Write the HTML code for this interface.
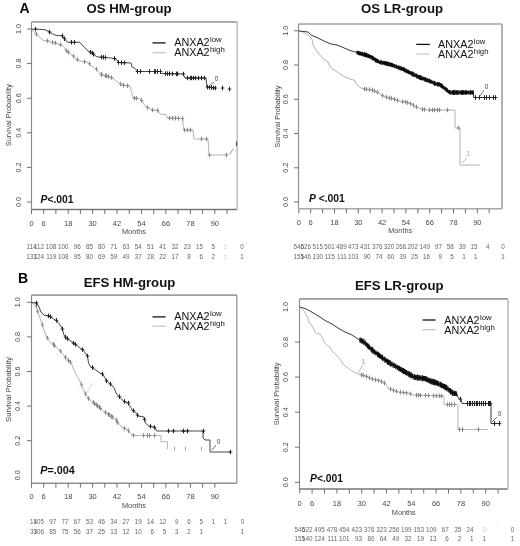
<!DOCTYPE html>
<html><head><meta charset="utf-8"><style>
html,body{margin:0;padding:0;background:#fff;}
body{width:520px;height:546px;overflow:hidden;font-family:"Liberation Sans", sans-serif;}
svg{display:block;filter:grayscale(1) blur(0.3px);}
</style></head><body>
<svg width="520" height="546" viewBox="0 0 520 546" font-family='"Liberation Sans", sans-serif'>
<rect width="520" height="546" fill="#fff"/>
<line x1="31.5" y1="21.9" x2="237.2" y2="21.9" stroke="#a4a4a4" stroke-width="1.6"/>
<line x1="31.5" y1="21.9" x2="31.5" y2="209.5" stroke="#888" stroke-width="1.1"/>
<line x1="31.5" y1="209.5" x2="237.2" y2="209.5" stroke="#777" stroke-width="1.3"/>
<line x1="237.2" y1="21.9" x2="237.2" y2="209.5" stroke="#c4c4c4" stroke-width="1.8"/>
<line x1="27.0" y1="202.0" x2="31.5" y2="202.0" stroke="#707070" stroke-width="1.0"/>
<text x="0" y="0" font-size="7.2" fill="#484848" text-anchor="middle" transform="translate(20.8,202.0) rotate(-90)">0.0</text>
<line x1="27.0" y1="167.4" x2="31.5" y2="167.4" stroke="#707070" stroke-width="1.0"/>
<text x="0" y="0" font-size="7.2" fill="#484848" text-anchor="middle" transform="translate(20.8,167.4) rotate(-90)">0.2</text>
<line x1="27.0" y1="132.8" x2="31.5" y2="132.8" stroke="#707070" stroke-width="1.0"/>
<text x="0" y="0" font-size="7.2" fill="#484848" text-anchor="middle" transform="translate(20.8,132.8) rotate(-90)">0.4</text>
<line x1="27.0" y1="98.2" x2="31.5" y2="98.2" stroke="#707070" stroke-width="1.0"/>
<text x="0" y="0" font-size="7.2" fill="#484848" text-anchor="middle" transform="translate(20.8,98.2) rotate(-90)">0.6</text>
<line x1="27.0" y1="63.6" x2="31.5" y2="63.6" stroke="#707070" stroke-width="1.0"/>
<text x="0" y="0" font-size="7.2" fill="#484848" text-anchor="middle" transform="translate(20.8,63.6) rotate(-90)">0.8</text>
<line x1="27.0" y1="29.0" x2="31.5" y2="29.0" stroke="#707070" stroke-width="1.0"/>
<text x="0" y="0" font-size="7.2" fill="#484848" text-anchor="middle" transform="translate(20.8,29.0) rotate(-90)">1.0</text>
<text x="0" y="0" font-size="7.6" fill="#484848" text-anchor="middle" textLength="62.0" lengthAdjust="spacingAndGlyphs" transform="translate(11.3,115.2) rotate(-90)">Survival Probability</text>
<line x1="31.5" y1="209.5" x2="31.5" y2="214.0" stroke="#707070" stroke-width="1.0"/>
<line x1="43.7" y1="209.5" x2="43.7" y2="214.0" stroke="#707070" stroke-width="1.0"/>
<line x1="55.9" y1="209.5" x2="55.9" y2="214.0" stroke="#707070" stroke-width="1.0"/>
<line x1="68.2" y1="209.5" x2="68.2" y2="214.0" stroke="#707070" stroke-width="1.0"/>
<line x1="80.4" y1="209.5" x2="80.4" y2="214.0" stroke="#707070" stroke-width="1.0"/>
<line x1="92.6" y1="209.5" x2="92.6" y2="214.0" stroke="#707070" stroke-width="1.0"/>
<line x1="104.8" y1="209.5" x2="104.8" y2="214.0" stroke="#707070" stroke-width="1.0"/>
<line x1="117.0" y1="209.5" x2="117.0" y2="214.0" stroke="#707070" stroke-width="1.0"/>
<line x1="129.3" y1="209.5" x2="129.3" y2="214.0" stroke="#707070" stroke-width="1.0"/>
<line x1="141.5" y1="209.5" x2="141.5" y2="214.0" stroke="#707070" stroke-width="1.0"/>
<line x1="153.7" y1="209.5" x2="153.7" y2="214.0" stroke="#707070" stroke-width="1.0"/>
<line x1="165.9" y1="209.5" x2="165.9" y2="214.0" stroke="#707070" stroke-width="1.0"/>
<line x1="178.1" y1="209.5" x2="178.1" y2="214.0" stroke="#707070" stroke-width="1.0"/>
<line x1="190.4" y1="209.5" x2="190.4" y2="214.0" stroke="#707070" stroke-width="1.0"/>
<line x1="202.6" y1="209.5" x2="202.6" y2="214.0" stroke="#707070" stroke-width="1.0"/>
<line x1="214.8" y1="209.5" x2="214.8" y2="214.0" stroke="#707070" stroke-width="1.0"/>
<line x1="227.0" y1="209.5" x2="227.0" y2="214.0" stroke="#707070" stroke-width="1.0"/>
<text x="31.5" y="225.6" font-size="7.5" fill="#484848" text-anchor="middle" font-weight="normal" font-style="normal" >0</text>
<text x="43.7" y="225.6" font-size="7.5" fill="#484848" text-anchor="middle" font-weight="normal" font-style="normal" >6</text>
<text x="68.2" y="225.6" font-size="7.5" fill="#484848" text-anchor="middle" font-weight="normal" font-style="normal" >18</text>
<text x="92.6" y="225.6" font-size="7.5" fill="#484848" text-anchor="middle" font-weight="normal" font-style="normal" >30</text>
<text x="117.0" y="225.6" font-size="7.5" fill="#484848" text-anchor="middle" font-weight="normal" font-style="normal" >42</text>
<text x="141.5" y="225.6" font-size="7.5" fill="#484848" text-anchor="middle" font-weight="normal" font-style="normal" >54</text>
<text x="165.9" y="225.6" font-size="7.5" fill="#484848" text-anchor="middle" font-weight="normal" font-style="normal" >66</text>
<text x="190.4" y="225.6" font-size="7.5" fill="#484848" text-anchor="middle" font-weight="normal" font-style="normal" >78</text>
<text x="214.8" y="225.6" font-size="7.5" fill="#484848" text-anchor="middle" font-weight="normal" font-style="normal" >90</text>
<text x="134.0" y="234.4" font-size="7.3" fill="#484848" text-anchor="middle" font-weight="normal" font-style="normal" >Months</text>
<text x="31.5" y="249.3" font-size="6.3" fill="#666" text-anchor="middle" font-weight="normal" font-style="normal" >114</text>
<text x="44.0" y="249.3" font-size="6.3" fill="#666" text-anchor="end" font-weight="normal" font-style="normal" >112</text>
<text x="56.2" y="249.3" font-size="6.3" fill="#666" text-anchor="end" font-weight="normal" font-style="normal" >108</text>
<text x="68.5" y="249.3" font-size="6.3" fill="#666" text-anchor="end" font-weight="normal" font-style="normal" >100</text>
<text x="80.7" y="249.3" font-size="6.3" fill="#666" text-anchor="end" font-weight="normal" font-style="normal" >96</text>
<text x="92.9" y="249.3" font-size="6.3" fill="#666" text-anchor="end" font-weight="normal" font-style="normal" >85</text>
<text x="105.1" y="249.3" font-size="6.3" fill="#666" text-anchor="end" font-weight="normal" font-style="normal" >80</text>
<text x="117.3" y="249.3" font-size="6.3" fill="#666" text-anchor="end" font-weight="normal" font-style="normal" >71</text>
<text x="129.6" y="249.3" font-size="6.3" fill="#666" text-anchor="end" font-weight="normal" font-style="normal" >63</text>
<text x="141.8" y="249.3" font-size="6.3" fill="#666" text-anchor="end" font-weight="normal" font-style="normal" >54</text>
<text x="154.0" y="249.3" font-size="6.3" fill="#666" text-anchor="end" font-weight="normal" font-style="normal" >51</text>
<text x="166.2" y="249.3" font-size="6.3" fill="#666" text-anchor="end" font-weight="normal" font-style="normal" >41</text>
<text x="178.4" y="249.3" font-size="6.3" fill="#666" text-anchor="end" font-weight="normal" font-style="normal" >32</text>
<text x="190.7" y="249.3" font-size="6.3" fill="#666" text-anchor="end" font-weight="normal" font-style="normal" >23</text>
<text x="202.9" y="249.3" font-size="6.3" fill="#666" text-anchor="end" font-weight="normal" font-style="normal" >15</text>
<text x="215.1" y="249.3" font-size="6.3" fill="#666" text-anchor="end" font-weight="normal" font-style="normal" >5</text>
<text x="227.3" y="249.3" font-size="6.3" fill="#ccc" text-anchor="end" font-weight="normal" font-style="normal" >1</text>
<text x="242.0" y="249.3" font-size="6.3" fill="#666" text-anchor="middle" font-weight="normal" font-style="normal" >0</text>
<text x="31.5" y="258.8" font-size="6.3" fill="#666" text-anchor="middle" font-weight="normal" font-style="normal" >133</text>
<text x="44.0" y="258.8" font-size="6.3" fill="#666" text-anchor="end" font-weight="normal" font-style="normal" >124</text>
<text x="56.2" y="258.8" font-size="6.3" fill="#666" text-anchor="end" font-weight="normal" font-style="normal" >119</text>
<text x="68.5" y="258.8" font-size="6.3" fill="#666" text-anchor="end" font-weight="normal" font-style="normal" >108</text>
<text x="80.7" y="258.8" font-size="6.3" fill="#666" text-anchor="end" font-weight="normal" font-style="normal" >95</text>
<text x="92.9" y="258.8" font-size="6.3" fill="#666" text-anchor="end" font-weight="normal" font-style="normal" >80</text>
<text x="105.1" y="258.8" font-size="6.3" fill="#666" text-anchor="end" font-weight="normal" font-style="normal" >69</text>
<text x="117.3" y="258.8" font-size="6.3" fill="#666" text-anchor="end" font-weight="normal" font-style="normal" >59</text>
<text x="129.6" y="258.8" font-size="6.3" fill="#666" text-anchor="end" font-weight="normal" font-style="normal" >49</text>
<text x="141.8" y="258.8" font-size="6.3" fill="#666" text-anchor="end" font-weight="normal" font-style="normal" >37</text>
<text x="154.0" y="258.8" font-size="6.3" fill="#666" text-anchor="end" font-weight="normal" font-style="normal" >28</text>
<text x="166.2" y="258.8" font-size="6.3" fill="#666" text-anchor="end" font-weight="normal" font-style="normal" >22</text>
<text x="178.4" y="258.8" font-size="6.3" fill="#666" text-anchor="end" font-weight="normal" font-style="normal" >17</text>
<text x="190.7" y="258.8" font-size="6.3" fill="#666" text-anchor="end" font-weight="normal" font-style="normal" >8</text>
<text x="202.9" y="258.8" font-size="6.3" fill="#666" text-anchor="end" font-weight="normal" font-style="normal" >6</text>
<text x="215.1" y="258.8" font-size="6.3" fill="#666" text-anchor="end" font-weight="normal" font-style="normal" >2</text>
<text x="227.3" y="258.8" font-size="6.3" fill="#ccc" text-anchor="end" font-weight="normal" font-style="normal" >1</text>
<text x="242.0" y="258.8" font-size="6.3" fill="#666" text-anchor="middle" font-weight="normal" font-style="normal" >1</text>
<text x="129.1" y="12.7" font-size="13.2" fill="#111" text-anchor="middle" font-weight="bold" font-style="normal" >OS HM-group</text>
<line x1="152.5" y1="42.9" x2="165.6" y2="42.9" stroke="#111" stroke-width="1.3"/>
<line x1="152.5" y1="52.7" x2="165.6" y2="52.7" stroke="#c4c4c4" stroke-width="1.2"/>
<text x="174.2" y="46.3" font-size="10.8" fill="#111">ANXA2<tspan font-size="7.8" dx="0.4" dy="-4.0">low</tspan></text>
<text x="174.2" y="56.0" font-size="10.8" fill="#111">ANXA2<tspan font-size="7.8" dx="0.4" dy="-4.0">high</tspan></text>
<text x="40.5" y="202.6" font-size="10.3" font-weight="bold" fill="#111"><tspan font-style="italic">P</tspan>&lt;.001</text>
<line x1="298.5" y1="24.0" x2="502.0" y2="24.0" stroke="#a0a0a0" stroke-width="1.6"/>
<line x1="298.5" y1="24.0" x2="298.5" y2="208.8" stroke="#909090" stroke-width="1.2"/>
<line x1="298.5" y1="208.8" x2="502.0" y2="208.8" stroke="#a8a8a8" stroke-width="1.6"/>
<line x1="502.0" y1="24.0" x2="502.0" y2="208.8" stroke="#aaa" stroke-width="1.8"/>
<line x1="294.0" y1="202.0" x2="298.5" y2="202.0" stroke="#707070" stroke-width="1.0"/>
<text x="0" y="0" font-size="7.2" fill="#484848" text-anchor="middle" transform="translate(288.3,202.0) rotate(-90)">0.0</text>
<line x1="294.0" y1="167.8" x2="298.5" y2="167.8" stroke="#707070" stroke-width="1.0"/>
<text x="0" y="0" font-size="7.2" fill="#484848" text-anchor="middle" transform="translate(288.3,167.8) rotate(-90)">0.2</text>
<line x1="294.0" y1="133.5" x2="298.5" y2="133.5" stroke="#707070" stroke-width="1.0"/>
<text x="0" y="0" font-size="7.2" fill="#484848" text-anchor="middle" transform="translate(288.3,133.5) rotate(-90)">0.4</text>
<line x1="294.0" y1="99.3" x2="298.5" y2="99.3" stroke="#707070" stroke-width="1.0"/>
<text x="0" y="0" font-size="7.2" fill="#484848" text-anchor="middle" transform="translate(288.3,99.3) rotate(-90)">0.6</text>
<line x1="294.0" y1="65.0" x2="298.5" y2="65.0" stroke="#707070" stroke-width="1.0"/>
<text x="0" y="0" font-size="7.2" fill="#484848" text-anchor="middle" transform="translate(288.3,65.0) rotate(-90)">0.8</text>
<line x1="294.0" y1="30.8" x2="298.5" y2="30.8" stroke="#707070" stroke-width="1.0"/>
<text x="0" y="0" font-size="7.2" fill="#484848" text-anchor="middle" transform="translate(288.3,30.8) rotate(-90)">1.0</text>
<text x="0" y="0" font-size="7.6" fill="#484848" text-anchor="middle" textLength="62.1" lengthAdjust="spacingAndGlyphs" transform="translate(279.8,116.6) rotate(-90)">Survival Probability</text>
<line x1="298.8" y1="208.8" x2="298.8" y2="213.3" stroke="#707070" stroke-width="1.0"/>
<line x1="310.7" y1="208.8" x2="310.7" y2="213.3" stroke="#707070" stroke-width="1.0"/>
<line x1="322.6" y1="208.8" x2="322.6" y2="213.3" stroke="#707070" stroke-width="1.0"/>
<line x1="334.5" y1="208.8" x2="334.5" y2="213.3" stroke="#707070" stroke-width="1.0"/>
<line x1="346.4" y1="208.8" x2="346.4" y2="213.3" stroke="#707070" stroke-width="1.0"/>
<line x1="358.3" y1="208.8" x2="358.3" y2="213.3" stroke="#707070" stroke-width="1.0"/>
<line x1="370.2" y1="208.8" x2="370.2" y2="213.3" stroke="#707070" stroke-width="1.0"/>
<line x1="382.1" y1="208.8" x2="382.1" y2="213.3" stroke="#707070" stroke-width="1.0"/>
<line x1="394.0" y1="208.8" x2="394.0" y2="213.3" stroke="#707070" stroke-width="1.0"/>
<line x1="405.9" y1="208.8" x2="405.9" y2="213.3" stroke="#707070" stroke-width="1.0"/>
<line x1="417.8" y1="208.8" x2="417.8" y2="213.3" stroke="#707070" stroke-width="1.0"/>
<line x1="429.7" y1="208.8" x2="429.7" y2="213.3" stroke="#707070" stroke-width="1.0"/>
<line x1="441.6" y1="208.8" x2="441.6" y2="213.3" stroke="#707070" stroke-width="1.0"/>
<line x1="453.5" y1="208.8" x2="453.5" y2="213.3" stroke="#707070" stroke-width="1.0"/>
<line x1="465.4" y1="208.8" x2="465.4" y2="213.3" stroke="#707070" stroke-width="1.0"/>
<line x1="477.3" y1="208.8" x2="477.3" y2="213.3" stroke="#707070" stroke-width="1.0"/>
<line x1="489.2" y1="208.8" x2="489.2" y2="213.3" stroke="#707070" stroke-width="1.0"/>
<text x="298.8" y="224.8" font-size="7.5" fill="#484848" text-anchor="middle" font-weight="normal" font-style="normal" >0</text>
<text x="310.7" y="224.8" font-size="7.5" fill="#484848" text-anchor="middle" font-weight="normal" font-style="normal" >6</text>
<text x="334.5" y="224.8" font-size="7.5" fill="#484848" text-anchor="middle" font-weight="normal" font-style="normal" >18</text>
<text x="358.3" y="224.8" font-size="7.5" fill="#484848" text-anchor="middle" font-weight="normal" font-style="normal" >30</text>
<text x="382.1" y="224.8" font-size="7.5" fill="#484848" text-anchor="middle" font-weight="normal" font-style="normal" >42</text>
<text x="405.9" y="224.8" font-size="7.5" fill="#484848" text-anchor="middle" font-weight="normal" font-style="normal" >54</text>
<text x="429.7" y="224.8" font-size="7.5" fill="#484848" text-anchor="middle" font-weight="normal" font-style="normal" >66</text>
<text x="453.5" y="224.8" font-size="7.5" fill="#484848" text-anchor="middle" font-weight="normal" font-style="normal" >78</text>
<text x="477.3" y="224.8" font-size="7.5" fill="#484848" text-anchor="middle" font-weight="normal" font-style="normal" >90</text>
<text x="400.2" y="233.2" font-size="7.3" fill="#484848" text-anchor="middle" font-weight="normal" font-style="normal" >Months</text>
<text x="298.8" y="249.2" font-size="6.3" fill="#666" text-anchor="middle" font-weight="normal" font-style="normal" >546</text>
<text x="311.0" y="249.2" font-size="6.3" fill="#666" text-anchor="end" font-weight="normal" font-style="normal" >526</text>
<text x="322.9" y="249.2" font-size="6.3" fill="#666" text-anchor="end" font-weight="normal" font-style="normal" >515</text>
<text x="334.8" y="249.2" font-size="6.3" fill="#666" text-anchor="end" font-weight="normal" font-style="normal" >501</text>
<text x="346.7" y="249.2" font-size="6.3" fill="#666" text-anchor="end" font-weight="normal" font-style="normal" >489</text>
<text x="358.6" y="249.2" font-size="6.3" fill="#666" text-anchor="end" font-weight="normal" font-style="normal" >473</text>
<text x="370.5" y="249.2" font-size="6.3" fill="#666" text-anchor="end" font-weight="normal" font-style="normal" >431</text>
<text x="382.4" y="249.2" font-size="6.3" fill="#666" text-anchor="end" font-weight="normal" font-style="normal" >376</text>
<text x="394.3" y="249.2" font-size="6.3" fill="#666" text-anchor="end" font-weight="normal" font-style="normal" >320</text>
<text x="406.2" y="249.2" font-size="6.3" fill="#666" text-anchor="end" font-weight="normal" font-style="normal" >266</text>
<text x="418.1" y="249.2" font-size="6.3" fill="#666" text-anchor="end" font-weight="normal" font-style="normal" >202</text>
<text x="430.0" y="249.2" font-size="6.3" fill="#666" text-anchor="end" font-weight="normal" font-style="normal" >149</text>
<text x="441.9" y="249.2" font-size="6.3" fill="#666" text-anchor="end" font-weight="normal" font-style="normal" >97</text>
<text x="453.8" y="249.2" font-size="6.3" fill="#666" text-anchor="end" font-weight="normal" font-style="normal" >58</text>
<text x="465.7" y="249.2" font-size="6.3" fill="#666" text-anchor="end" font-weight="normal" font-style="normal" >39</text>
<text x="477.6" y="249.2" font-size="6.3" fill="#666" text-anchor="end" font-weight="normal" font-style="normal" >15</text>
<text x="489.5" y="249.2" font-size="6.3" fill="#666" text-anchor="end" font-weight="normal" font-style="normal" >4</text>
<text x="503.0" y="249.2" font-size="6.3" fill="#666" text-anchor="middle" font-weight="normal" font-style="normal" >0</text>
<text x="298.8" y="258.5" font-size="6.3" fill="#666" text-anchor="middle" font-weight="normal" font-style="normal" >155</text>
<text x="311.0" y="258.5" font-size="6.3" fill="#666" text-anchor="end" font-weight="normal" font-style="normal" >146</text>
<text x="322.9" y="258.5" font-size="6.3" fill="#666" text-anchor="end" font-weight="normal" font-style="normal" >130</text>
<text x="334.8" y="258.5" font-size="6.3" fill="#666" text-anchor="end" font-weight="normal" font-style="normal" >115</text>
<text x="346.7" y="258.5" font-size="6.3" fill="#666" text-anchor="end" font-weight="normal" font-style="normal" >111</text>
<text x="358.6" y="258.5" font-size="6.3" fill="#666" text-anchor="end" font-weight="normal" font-style="normal" >103</text>
<text x="370.5" y="258.5" font-size="6.3" fill="#666" text-anchor="end" font-weight="normal" font-style="normal" >90</text>
<text x="382.4" y="258.5" font-size="6.3" fill="#666" text-anchor="end" font-weight="normal" font-style="normal" >74</text>
<text x="394.3" y="258.5" font-size="6.3" fill="#666" text-anchor="end" font-weight="normal" font-style="normal" >60</text>
<text x="406.2" y="258.5" font-size="6.3" fill="#666" text-anchor="end" font-weight="normal" font-style="normal" >39</text>
<text x="418.1" y="258.5" font-size="6.3" fill="#666" text-anchor="end" font-weight="normal" font-style="normal" >25</text>
<text x="430.0" y="258.5" font-size="6.3" fill="#666" text-anchor="end" font-weight="normal" font-style="normal" >16</text>
<text x="441.9" y="258.5" font-size="6.3" fill="#666" text-anchor="end" font-weight="normal" font-style="normal" >9</text>
<text x="453.8" y="258.5" font-size="6.3" fill="#666" text-anchor="end" font-weight="normal" font-style="normal" >5</text>
<text x="465.7" y="258.5" font-size="6.3" fill="#666" text-anchor="end" font-weight="normal" font-style="normal" >1</text>
<text x="477.6" y="258.5" font-size="6.3" fill="#666" text-anchor="end" font-weight="normal" font-style="normal" >1</text>
<text x="503.0" y="258.5" font-size="6.3" fill="#666" text-anchor="middle" font-weight="normal" font-style="normal" >1</text>
<text x="402.0" y="13.4" font-size="13.2" fill="#111" text-anchor="middle" font-weight="bold" font-style="normal" >OS LR-group</text>
<line x1="416.3" y1="44.4" x2="429.8" y2="44.4" stroke="#111" stroke-width="1.3"/>
<line x1="416.3" y1="54.0" x2="429.8" y2="54.0" stroke="#c4c4c4" stroke-width="1.2"/>
<text x="438" y="48.3" font-size="10.8" fill="#111">ANXA2<tspan font-size="7.8" dx="0.4" dy="-4.0">low</tspan></text>
<text x="438" y="57.5" font-size="10.8" fill="#111">ANXA2<tspan font-size="7.8" dx="0.4" dy="-4.0">high</tspan></text>
<text x="308.9" y="201.5" font-size="10.3" font-weight="bold" fill="#111"><tspan font-style="italic">P</tspan> &lt;.001</text>
<line x1="31.5" y1="295.1" x2="236.8" y2="295.1" stroke="#a0a0a0" stroke-width="1.6"/>
<line x1="31.5" y1="295.1" x2="31.5" y2="483.2" stroke="#888" stroke-width="1.1"/>
<line x1="31.5" y1="483.2" x2="236.8" y2="483.2" stroke="#909090" stroke-width="1.6"/>
<line x1="236.8" y1="295.1" x2="236.8" y2="483.2" stroke="#999" stroke-width="1.3"/>
<text x="0" y="0" font-size="7.2" fill="#484848" text-anchor="middle" transform="translate(20.3,475.3) rotate(-90)">0.0</text>
<line x1="27.0" y1="440.7" x2="31.5" y2="440.7" stroke="#707070" stroke-width="1.0"/>
<text x="0" y="0" font-size="7.2" fill="#484848" text-anchor="middle" transform="translate(20.3,440.7) rotate(-90)">0.2</text>
<line x1="27.0" y1="406.1" x2="31.5" y2="406.1" stroke="#707070" stroke-width="1.0"/>
<text x="0" y="0" font-size="7.2" fill="#484848" text-anchor="middle" transform="translate(20.3,406.1) rotate(-90)">0.4</text>
<line x1="27.0" y1="371.5" x2="31.5" y2="371.5" stroke="#707070" stroke-width="1.0"/>
<text x="0" y="0" font-size="7.2" fill="#484848" text-anchor="middle" transform="translate(20.3,371.5) rotate(-90)">0.6</text>
<line x1="27.0" y1="336.9" x2="31.5" y2="336.9" stroke="#707070" stroke-width="1.0"/>
<text x="0" y="0" font-size="7.2" fill="#484848" text-anchor="middle" transform="translate(20.3,336.9) rotate(-90)">0.8</text>
<line x1="27.0" y1="302.3" x2="31.5" y2="302.3" stroke="#707070" stroke-width="1.0"/>
<text x="0" y="0" font-size="7.2" fill="#484848" text-anchor="middle" transform="translate(20.3,302.3) rotate(-90)">1.0</text>
<text x="0" y="0" font-size="7.6" fill="#484848" text-anchor="middle" textLength="65.10000000000001" lengthAdjust="spacingAndGlyphs" transform="translate(11.2,389.4) rotate(-90)">Survival Probability</text>
<line x1="31.5" y1="483.2" x2="31.5" y2="487.7" stroke="#707070" stroke-width="1.0"/>
<line x1="43.7" y1="483.2" x2="43.7" y2="487.7" stroke="#707070" stroke-width="1.0"/>
<line x1="55.9" y1="483.2" x2="55.9" y2="487.7" stroke="#707070" stroke-width="1.0"/>
<line x1="68.2" y1="483.2" x2="68.2" y2="487.7" stroke="#707070" stroke-width="1.0"/>
<line x1="80.4" y1="483.2" x2="80.4" y2="487.7" stroke="#707070" stroke-width="1.0"/>
<line x1="92.6" y1="483.2" x2="92.6" y2="487.7" stroke="#707070" stroke-width="1.0"/>
<line x1="104.8" y1="483.2" x2="104.8" y2="487.7" stroke="#707070" stroke-width="1.0"/>
<line x1="117.0" y1="483.2" x2="117.0" y2="487.7" stroke="#707070" stroke-width="1.0"/>
<line x1="129.3" y1="483.2" x2="129.3" y2="487.7" stroke="#707070" stroke-width="1.0"/>
<line x1="141.5" y1="483.2" x2="141.5" y2="487.7" stroke="#707070" stroke-width="1.0"/>
<line x1="153.7" y1="483.2" x2="153.7" y2="487.7" stroke="#707070" stroke-width="1.0"/>
<line x1="165.9" y1="483.2" x2="165.9" y2="487.7" stroke="#707070" stroke-width="1.0"/>
<line x1="178.1" y1="483.2" x2="178.1" y2="487.7" stroke="#707070" stroke-width="1.0"/>
<line x1="190.4" y1="483.2" x2="190.4" y2="487.7" stroke="#707070" stroke-width="1.0"/>
<line x1="202.6" y1="483.2" x2="202.6" y2="487.7" stroke="#707070" stroke-width="1.0"/>
<line x1="214.8" y1="483.2" x2="214.8" y2="487.7" stroke="#707070" stroke-width="1.0"/>
<text x="31.5" y="499.3" font-size="7.5" fill="#484848" text-anchor="middle" font-weight="normal" font-style="normal" >0</text>
<text x="43.7" y="499.3" font-size="7.5" fill="#484848" text-anchor="middle" font-weight="normal" font-style="normal" >6</text>
<text x="68.2" y="499.3" font-size="7.5" fill="#484848" text-anchor="middle" font-weight="normal" font-style="normal" >18</text>
<text x="92.6" y="499.3" font-size="7.5" fill="#484848" text-anchor="middle" font-weight="normal" font-style="normal" >30</text>
<text x="117.0" y="499.3" font-size="7.5" fill="#484848" text-anchor="middle" font-weight="normal" font-style="normal" >42</text>
<text x="141.5" y="499.3" font-size="7.5" fill="#484848" text-anchor="middle" font-weight="normal" font-style="normal" >54</text>
<text x="165.9" y="499.3" font-size="7.5" fill="#484848" text-anchor="middle" font-weight="normal" font-style="normal" >66</text>
<text x="190.4" y="499.3" font-size="7.5" fill="#484848" text-anchor="middle" font-weight="normal" font-style="normal" >78</text>
<text x="214.8" y="499.3" font-size="7.5" fill="#484848" text-anchor="middle" font-weight="normal" font-style="normal" >90</text>
<text x="134.0" y="507.7" font-size="7.3" fill="#484848" text-anchor="middle" font-weight="normal" font-style="normal" >Months</text>
<text x="30.0" y="523.9" font-size="6.3" fill="#666" text-anchor="start" font-weight="normal" font-style="normal" >14</text>
<text x="27.6" y="524.7" font-size="5.5" fill="#999" text-anchor="middle" font-weight="normal" font-style="normal" >'</text>
<text x="44.0" y="523.9" font-size="6.3" fill="#666" text-anchor="end" font-weight="normal" font-style="normal" >105</text>
<text x="56.2" y="523.9" font-size="6.3" fill="#666" text-anchor="end" font-weight="normal" font-style="normal" >97</text>
<text x="68.5" y="523.9" font-size="6.3" fill="#666" text-anchor="end" font-weight="normal" font-style="normal" >77</text>
<text x="80.7" y="523.9" font-size="6.3" fill="#666" text-anchor="end" font-weight="normal" font-style="normal" >67</text>
<text x="92.9" y="523.9" font-size="6.3" fill="#666" text-anchor="end" font-weight="normal" font-style="normal" >53</text>
<text x="105.1" y="523.9" font-size="6.3" fill="#666" text-anchor="end" font-weight="normal" font-style="normal" >46</text>
<text x="117.3" y="523.9" font-size="6.3" fill="#666" text-anchor="end" font-weight="normal" font-style="normal" >34</text>
<text x="129.6" y="523.9" font-size="6.3" fill="#666" text-anchor="end" font-weight="normal" font-style="normal" >27</text>
<text x="141.8" y="523.9" font-size="6.3" fill="#666" text-anchor="end" font-weight="normal" font-style="normal" >19</text>
<text x="154.0" y="523.9" font-size="6.3" fill="#666" text-anchor="end" font-weight="normal" font-style="normal" >14</text>
<text x="166.2" y="523.9" font-size="6.3" fill="#666" text-anchor="end" font-weight="normal" font-style="normal" >12</text>
<text x="178.4" y="523.9" font-size="6.3" fill="#666" text-anchor="end" font-weight="normal" font-style="normal" >9</text>
<text x="190.7" y="523.9" font-size="6.3" fill="#666" text-anchor="end" font-weight="normal" font-style="normal" >6</text>
<text x="202.9" y="523.9" font-size="6.3" fill="#666" text-anchor="end" font-weight="normal" font-style="normal" >5</text>
<text x="215.1" y="523.9" font-size="6.3" fill="#666" text-anchor="end" font-weight="normal" font-style="normal" >1</text>
<text x="227.3" y="523.9" font-size="6.3" fill="#666" text-anchor="end" font-weight="normal" font-style="normal" >1</text>
<text x="242.5" y="523.9" font-size="6.3" fill="#666" text-anchor="middle" font-weight="normal" font-style="normal" >0</text>
<text x="30.0" y="533.5" font-size="6.3" fill="#666" text-anchor="start" font-weight="normal" font-style="normal" >33</text>
<text x="27.6" y="534.3" font-size="5.5" fill="#999" text-anchor="middle" font-weight="normal" font-style="normal" >'</text>
<text x="44.0" y="533.5" font-size="6.3" fill="#666" text-anchor="end" font-weight="normal" font-style="normal" >106</text>
<text x="56.2" y="533.5" font-size="6.3" fill="#666" text-anchor="end" font-weight="normal" font-style="normal" >85</text>
<text x="68.5" y="533.5" font-size="6.3" fill="#666" text-anchor="end" font-weight="normal" font-style="normal" >75</text>
<text x="80.7" y="533.5" font-size="6.3" fill="#666" text-anchor="end" font-weight="normal" font-style="normal" >56</text>
<text x="92.9" y="533.5" font-size="6.3" fill="#666" text-anchor="end" font-weight="normal" font-style="normal" >37</text>
<text x="105.1" y="533.5" font-size="6.3" fill="#666" text-anchor="end" font-weight="normal" font-style="normal" >25</text>
<text x="117.3" y="533.5" font-size="6.3" fill="#666" text-anchor="end" font-weight="normal" font-style="normal" >13</text>
<text x="129.6" y="533.5" font-size="6.3" fill="#666" text-anchor="end" font-weight="normal" font-style="normal" >12</text>
<text x="141.8" y="533.5" font-size="6.3" fill="#666" text-anchor="end" font-weight="normal" font-style="normal" >10</text>
<text x="154.0" y="533.5" font-size="6.3" fill="#666" text-anchor="end" font-weight="normal" font-style="normal" >6</text>
<text x="166.2" y="533.5" font-size="6.3" fill="#666" text-anchor="end" font-weight="normal" font-style="normal" >5</text>
<text x="178.4" y="533.5" font-size="6.3" fill="#666" text-anchor="end" font-weight="normal" font-style="normal" >3</text>
<text x="190.7" y="533.5" font-size="6.3" fill="#666" text-anchor="end" font-weight="normal" font-style="normal" >2</text>
<text x="202.9" y="533.5" font-size="6.3" fill="#666" text-anchor="end" font-weight="normal" font-style="normal" >1</text>
<text x="242.5" y="533.5" font-size="6.3" fill="#666" text-anchor="middle" font-weight="normal" font-style="normal" >1</text>
<text x="129.5" y="287.3" font-size="13.2" fill="#111" text-anchor="middle" font-weight="bold" font-style="normal" >EFS HM-group</text>
<line x1="152.5" y1="316.9" x2="165.6" y2="316.9" stroke="#111" stroke-width="1.3"/>
<line x1="152.5" y1="326.2" x2="165.6" y2="326.2" stroke="#c4c4c4" stroke-width="1.2"/>
<text x="174.2" y="320.4" font-size="10.8" fill="#111">ANXA2<tspan font-size="7.8" dx="0.4" dy="-4.0">low</tspan></text>
<text x="174.2" y="330.0" font-size="10.8" fill="#111">ANXA2<tspan font-size="7.8" dx="0.4" dy="-4.0">high</tspan></text>
<text x="40.3" y="474.3" font-size="10.8" font-weight="bold" fill="#111"><tspan font-style="italic">P</tspan>=.004</text>
<line x1="299.5" y1="298.9" x2="508.0" y2="298.9" stroke="#999" stroke-width="1.6"/>
<line x1="299.5" y1="298.9" x2="299.5" y2="489.0" stroke="#909090" stroke-width="1.2"/>
<line x1="299.5" y1="489.0" x2="508.0" y2="489.0" stroke="#777" stroke-width="1.4"/>
<line x1="508.0" y1="298.9" x2="508.0" y2="489.0" stroke="#c4c4c4" stroke-width="1.8"/>
<line x1="295.0" y1="482.3" x2="299.5" y2="482.3" stroke="#707070" stroke-width="1.0"/>
<text x="0" y="0" font-size="7.2" fill="#484848" text-anchor="middle" transform="translate(288.3,482.3) rotate(-90)">0.0</text>
<line x1="295.0" y1="447.2" x2="299.5" y2="447.2" stroke="#707070" stroke-width="1.0"/>
<text x="0" y="0" font-size="7.2" fill="#484848" text-anchor="middle" transform="translate(288.3,447.2) rotate(-90)">0.2</text>
<line x1="295.0" y1="412.2" x2="299.5" y2="412.2" stroke="#707070" stroke-width="1.0"/>
<text x="0" y="0" font-size="7.2" fill="#484848" text-anchor="middle" transform="translate(288.3,412.2) rotate(-90)">0.4</text>
<line x1="295.0" y1="377.1" x2="299.5" y2="377.1" stroke="#707070" stroke-width="1.0"/>
<text x="0" y="0" font-size="7.2" fill="#484848" text-anchor="middle" transform="translate(288.3,377.1) rotate(-90)">0.6</text>
<line x1="295.0" y1="342.1" x2="299.5" y2="342.1" stroke="#707070" stroke-width="1.0"/>
<text x="0" y="0" font-size="7.2" fill="#484848" text-anchor="middle" transform="translate(288.3,342.1) rotate(-90)">0.8</text>
<text x="0" y="0" font-size="7.2" fill="#484848" text-anchor="middle" transform="translate(288.3,307.0) rotate(-90)">1.0</text>
<text x="0" y="0" font-size="7.6" fill="#484848" text-anchor="middle" textLength="62.7" lengthAdjust="spacingAndGlyphs" transform="translate(279.2,393.8) rotate(-90)">Survival Probability</text>
<line x1="299.7" y1="489.0" x2="299.7" y2="493.5" stroke="#707070" stroke-width="1.0"/>
<line x1="312.1" y1="489.0" x2="312.1" y2="493.5" stroke="#707070" stroke-width="1.0"/>
<line x1="324.5" y1="489.0" x2="324.5" y2="493.5" stroke="#707070" stroke-width="1.0"/>
<line x1="336.9" y1="489.0" x2="336.9" y2="493.5" stroke="#707070" stroke-width="1.0"/>
<line x1="349.3" y1="489.0" x2="349.3" y2="493.5" stroke="#707070" stroke-width="1.0"/>
<line x1="361.7" y1="489.0" x2="361.7" y2="493.5" stroke="#707070" stroke-width="1.0"/>
<line x1="374.1" y1="489.0" x2="374.1" y2="493.5" stroke="#707070" stroke-width="1.0"/>
<line x1="386.5" y1="489.0" x2="386.5" y2="493.5" stroke="#707070" stroke-width="1.0"/>
<line x1="398.9" y1="489.0" x2="398.9" y2="493.5" stroke="#707070" stroke-width="1.0"/>
<line x1="411.3" y1="489.0" x2="411.3" y2="493.5" stroke="#707070" stroke-width="1.0"/>
<line x1="423.7" y1="489.0" x2="423.7" y2="493.5" stroke="#707070" stroke-width="1.0"/>
<line x1="436.1" y1="489.0" x2="436.1" y2="493.5" stroke="#707070" stroke-width="1.0"/>
<line x1="448.5" y1="489.0" x2="448.5" y2="493.5" stroke="#707070" stroke-width="1.0"/>
<line x1="460.9" y1="489.0" x2="460.9" y2="493.5" stroke="#707070" stroke-width="1.0"/>
<line x1="473.3" y1="489.0" x2="473.3" y2="493.5" stroke="#707070" stroke-width="1.0"/>
<line x1="485.7" y1="489.0" x2="485.7" y2="493.5" stroke="#707070" stroke-width="1.0"/>
<line x1="498.1" y1="489.0" x2="498.1" y2="493.5" stroke="#707070" stroke-width="1.0"/>
<text x="299.7" y="505.5" font-size="7.5" fill="#484848" text-anchor="middle" font-weight="normal" font-style="normal" >0</text>
<text x="312.1" y="505.5" font-size="7.5" fill="#484848" text-anchor="middle" font-weight="normal" font-style="normal" >6</text>
<text x="336.9" y="505.5" font-size="7.5" fill="#484848" text-anchor="middle" font-weight="normal" font-style="normal" >18</text>
<text x="361.7" y="505.5" font-size="7.5" fill="#484848" text-anchor="middle" font-weight="normal" font-style="normal" >30</text>
<text x="386.5" y="505.5" font-size="7.5" fill="#484848" text-anchor="middle" font-weight="normal" font-style="normal" >42</text>
<text x="411.3" y="505.5" font-size="7.5" fill="#484848" text-anchor="middle" font-weight="normal" font-style="normal" >54</text>
<text x="436.1" y="505.5" font-size="7.5" fill="#484848" text-anchor="middle" font-weight="normal" font-style="normal" >66</text>
<text x="460.9" y="505.5" font-size="7.5" fill="#484848" text-anchor="middle" font-weight="normal" font-style="normal" >78</text>
<text x="485.7" y="505.5" font-size="7.5" fill="#484848" text-anchor="middle" font-weight="normal" font-style="normal" >90</text>
<text x="403.8" y="514.8" font-size="7.3" fill="#484848" text-anchor="middle" font-weight="normal" font-style="normal" >Months</text>
<text x="299.7" y="531.5" font-size="6.3" fill="#666" text-anchor="middle" font-weight="normal" font-style="normal" >546</text>
<text x="312.4" y="531.5" font-size="6.3" fill="#666" text-anchor="end" font-weight="normal" font-style="normal" >522</text>
<text x="324.8" y="531.5" font-size="6.3" fill="#666" text-anchor="end" font-weight="normal" font-style="normal" >495</text>
<text x="337.2" y="531.5" font-size="6.3" fill="#666" text-anchor="end" font-weight="normal" font-style="normal" >478</text>
<text x="349.6" y="531.5" font-size="6.3" fill="#666" text-anchor="end" font-weight="normal" font-style="normal" >454</text>
<text x="362.0" y="531.5" font-size="6.3" fill="#666" text-anchor="end" font-weight="normal" font-style="normal" >423</text>
<text x="374.4" y="531.5" font-size="6.3" fill="#666" text-anchor="end" font-weight="normal" font-style="normal" >376</text>
<text x="386.8" y="531.5" font-size="6.3" fill="#666" text-anchor="end" font-weight="normal" font-style="normal" >323</text>
<text x="399.2" y="531.5" font-size="6.3" fill="#666" text-anchor="end" font-weight="normal" font-style="normal" >256</text>
<text x="411.6" y="531.5" font-size="6.3" fill="#666" text-anchor="end" font-weight="normal" font-style="normal" >199</text>
<text x="424.0" y="531.5" font-size="6.3" fill="#666" text-anchor="end" font-weight="normal" font-style="normal" >153</text>
<text x="436.4" y="531.5" font-size="6.3" fill="#666" text-anchor="end" font-weight="normal" font-style="normal" >109</text>
<text x="448.8" y="531.5" font-size="6.3" fill="#666" text-anchor="end" font-weight="normal" font-style="normal" >67</text>
<text x="461.2" y="531.5" font-size="6.3" fill="#666" text-anchor="end" font-weight="normal" font-style="normal" >35</text>
<text x="473.6" y="531.5" font-size="6.3" fill="#666" text-anchor="end" font-weight="normal" font-style="normal" >24</text>
<text x="486.0" y="531.5" font-size="6.3" fill="#ccc" text-anchor="end" font-weight="normal" font-style="normal" >0</text>
<text x="498.4" y="531.5" font-size="6.3" fill="#ccc" text-anchor="end" font-weight="normal" font-style="normal" >'</text>
<text x="512.5" y="531.5" font-size="6.3" fill="#666" text-anchor="middle" font-weight="normal" font-style="normal" >0</text>
<text x="299.7" y="540.8" font-size="6.3" fill="#666" text-anchor="middle" font-weight="normal" font-style="normal" >155</text>
<text x="312.4" y="540.8" font-size="6.3" fill="#666" text-anchor="end" font-weight="normal" font-style="normal" >140</text>
<text x="324.8" y="540.8" font-size="6.3" fill="#666" text-anchor="end" font-weight="normal" font-style="normal" >124</text>
<text x="337.2" y="540.8" font-size="6.3" fill="#666" text-anchor="end" font-weight="normal" font-style="normal" >111</text>
<text x="349.6" y="540.8" font-size="6.3" fill="#666" text-anchor="end" font-weight="normal" font-style="normal" >101</text>
<text x="362.0" y="540.8" font-size="6.3" fill="#666" text-anchor="end" font-weight="normal" font-style="normal" >93</text>
<text x="374.4" y="540.8" font-size="6.3" fill="#666" text-anchor="end" font-weight="normal" font-style="normal" >80</text>
<text x="386.8" y="540.8" font-size="6.3" fill="#666" text-anchor="end" font-weight="normal" font-style="normal" >64</text>
<text x="399.2" y="540.8" font-size="6.3" fill="#666" text-anchor="end" font-weight="normal" font-style="normal" >49</text>
<text x="411.6" y="540.8" font-size="6.3" fill="#666" text-anchor="end" font-weight="normal" font-style="normal" >32</text>
<text x="424.0" y="540.8" font-size="6.3" fill="#666" text-anchor="end" font-weight="normal" font-style="normal" >19</text>
<text x="436.4" y="540.8" font-size="6.3" fill="#666" text-anchor="end" font-weight="normal" font-style="normal" >13</text>
<text x="448.8" y="540.8" font-size="6.3" fill="#666" text-anchor="end" font-weight="normal" font-style="normal" >6</text>
<text x="461.2" y="540.8" font-size="6.3" fill="#666" text-anchor="end" font-weight="normal" font-style="normal" >2</text>
<text x="473.6" y="540.8" font-size="6.3" fill="#666" text-anchor="end" font-weight="normal" font-style="normal" >1</text>
<text x="486.0" y="540.8" font-size="6.3" fill="#666" text-anchor="end" font-weight="normal" font-style="normal" >1</text>
<text x="512.5" y="540.8" font-size="6.3" fill="#666" text-anchor="middle" font-weight="normal" font-style="normal" >1</text>
<text x="399.2" y="289.6" font-size="13.2" fill="#111" text-anchor="middle" font-weight="bold" font-style="normal" >EFS LR-group</text>
<line x1="422.5" y1="320.0" x2="435.6" y2="320.0" stroke="#111" stroke-width="1.3"/>
<line x1="422.5" y1="329.6" x2="435.6" y2="329.6" stroke="#c4c4c4" stroke-width="1.2"/>
<text x="444.2" y="324.2" font-size="10.8" fill="#111">ANXA2<tspan font-size="7.8" dx="0.4" dy="-4.0">low</tspan></text>
<text x="444.2" y="333.8" font-size="10.8" fill="#111">ANXA2<tspan font-size="7.8" dx="0.4" dy="-4.0">high</tspan></text>
<text x="310" y="481.5" font-size="10.3" font-weight="bold" fill="#111"><tspan font-style="italic">P</tspan>&lt;.001</text>
<polyline points="31.0,29.0 35.0,33.0 38.0,36.0 42.0,39.0 43.0,40.8 47.0,40.8 51.5,42.3 55.0,43.0 59.0,44.6 62.3,45.4 64.6,47.7 66.0,50.8 69.2,53.0 73.0,56.0 76.0,59.0 79.0,60.8 83.0,61.5 87.0,62.3 89.0,63.8 91.5,66.0 94.6,67.7 97.7,70.8 100.0,73.0 102.0,75.4 107.0,76.0 112.0,78.0 118.0,82.0 121.0,85.0 130.0,86.0 131.0,90.0 133.0,98.0 140.0,98.5 142.0,101.0 145.0,106.0 152.0,110.0 158.0,110.5 160.0,114.0 166.0,114.5 167.0,118.0 183.0,118.5 183.0,124.0 184.0,130.0 193.0,130.0 194.0,139.0 208.0,139.0 209.0,155.0 227.0,155.0" fill="none" stroke="#b4b4b4" stroke-width="1.0" stroke-linejoin="miter" />
<line x1="36.5" y1="31.8" x2="36.5" y2="36.2" stroke="#8a8a8a" stroke-width="1.0"/>
<line x1="34.7" y1="34.0" x2="38.3" y2="34.0" stroke="#8a8a8a" stroke-width="0.9"/>
<line x1="47.5" y1="38.5" x2="47.5" y2="43.0" stroke="#8a8a8a" stroke-width="1.0"/>
<line x1="45.7" y1="40.8" x2="49.3" y2="40.8" stroke="#8a8a8a" stroke-width="0.9"/>
<line x1="52.5" y1="40.1" x2="52.5" y2="44.6" stroke="#8a8a8a" stroke-width="1.0"/>
<line x1="50.7" y1="42.4" x2="54.3" y2="42.4" stroke="#8a8a8a" stroke-width="0.9"/>
<line x1="55.5" y1="40.8" x2="55.5" y2="45.2" stroke="#8a8a8a" stroke-width="1.0"/>
<line x1="53.7" y1="43.0" x2="57.3" y2="43.0" stroke="#8a8a8a" stroke-width="0.9"/>
<line x1="60.5" y1="42.6" x2="60.5" y2="47.1" stroke="#8a8a8a" stroke-width="1.0"/>
<line x1="58.7" y1="44.8" x2="62.3" y2="44.8" stroke="#8a8a8a" stroke-width="0.9"/>
<line x1="66.5" y1="48.5" x2="66.5" y2="53.0" stroke="#8a8a8a" stroke-width="1.0"/>
<line x1="64.7" y1="50.8" x2="68.3" y2="50.8" stroke="#8a8a8a" stroke-width="0.9"/>
<line x1="68.5" y1="49.9" x2="68.5" y2="54.4" stroke="#8a8a8a" stroke-width="1.0"/>
<line x1="66.7" y1="52.2" x2="70.3" y2="52.2" stroke="#8a8a8a" stroke-width="0.9"/>
<line x1="73.5" y1="53.8" x2="73.5" y2="58.2" stroke="#8a8a8a" stroke-width="1.0"/>
<line x1="71.7" y1="56.0" x2="75.3" y2="56.0" stroke="#8a8a8a" stroke-width="0.9"/>
<line x1="77.5" y1="57.4" x2="77.5" y2="61.9" stroke="#8a8a8a" stroke-width="1.0"/>
<line x1="75.7" y1="59.6" x2="79.3" y2="59.6" stroke="#8a8a8a" stroke-width="0.9"/>
<line x1="84.5" y1="59.5" x2="84.5" y2="64.0" stroke="#8a8a8a" stroke-width="1.0"/>
<line x1="82.7" y1="61.7" x2="86.3" y2="61.7" stroke="#8a8a8a" stroke-width="0.9"/>
<line x1="89.5" y1="61.5" x2="89.5" y2="66.0" stroke="#8a8a8a" stroke-width="1.0"/>
<line x1="87.7" y1="63.8" x2="91.3" y2="63.8" stroke="#8a8a8a" stroke-width="0.9"/>
<line x1="96.5" y1="66.9" x2="96.5" y2="71.4" stroke="#8a8a8a" stroke-width="1.0"/>
<line x1="94.7" y1="69.1" x2="98.3" y2="69.1" stroke="#8a8a8a" stroke-width="0.9"/>
<line x1="101.5" y1="72.0" x2="101.5" y2="76.5" stroke="#8a8a8a" stroke-width="1.0"/>
<line x1="99.7" y1="74.2" x2="103.3" y2="74.2" stroke="#8a8a8a" stroke-width="0.9"/>
<line x1="101.5" y1="72.6" x2="101.5" y2="77.1" stroke="#8a8a8a" stroke-width="1.0"/>
<line x1="99.7" y1="74.8" x2="103.3" y2="74.8" stroke="#8a8a8a" stroke-width="0.9"/>
<line x1="105.5" y1="73.5" x2="105.5" y2="78.0" stroke="#8a8a8a" stroke-width="1.0"/>
<line x1="103.7" y1="75.8" x2="107.3" y2="75.8" stroke="#8a8a8a" stroke-width="0.9"/>
<line x1="106.5" y1="73.6" x2="106.5" y2="78.1" stroke="#8a8a8a" stroke-width="1.0"/>
<line x1="104.7" y1="75.9" x2="108.3" y2="75.9" stroke="#8a8a8a" stroke-width="0.9"/>
<line x1="108.5" y1="74.3" x2="108.5" y2="78.8" stroke="#8a8a8a" stroke-width="1.0"/>
<line x1="106.7" y1="76.6" x2="110.3" y2="76.6" stroke="#8a8a8a" stroke-width="0.9"/>
<line x1="111.5" y1="75.3" x2="111.5" y2="79.8" stroke="#8a8a8a" stroke-width="1.0"/>
<line x1="109.7" y1="77.6" x2="113.3" y2="77.6" stroke="#8a8a8a" stroke-width="0.9"/>
<line x1="120.5" y1="81.8" x2="120.5" y2="86.2" stroke="#8a8a8a" stroke-width="1.0"/>
<line x1="118.7" y1="84.0" x2="122.3" y2="84.0" stroke="#8a8a8a" stroke-width="0.9"/>
<line x1="123.5" y1="83.0" x2="123.5" y2="87.5" stroke="#8a8a8a" stroke-width="1.0"/>
<line x1="121.7" y1="85.2" x2="125.3" y2="85.2" stroke="#8a8a8a" stroke-width="0.9"/>
<line x1="127.5" y1="83.5" x2="127.5" y2="88.0" stroke="#8a8a8a" stroke-width="1.0"/>
<line x1="125.7" y1="85.7" x2="129.3" y2="85.7" stroke="#8a8a8a" stroke-width="0.9"/>
<line x1="134.5" y1="95.9" x2="134.5" y2="100.4" stroke="#8a8a8a" stroke-width="1.0"/>
<line x1="132.7" y1="98.1" x2="136.3" y2="98.1" stroke="#8a8a8a" stroke-width="0.9"/>
<line x1="136.5" y1="96.0" x2="136.5" y2="100.5" stroke="#8a8a8a" stroke-width="1.0"/>
<line x1="134.7" y1="98.3" x2="138.3" y2="98.3" stroke="#8a8a8a" stroke-width="0.9"/>
<line x1="141.5" y1="98.1" x2="141.5" y2="102.6" stroke="#8a8a8a" stroke-width="1.0"/>
<line x1="139.7" y1="100.4" x2="143.3" y2="100.4" stroke="#8a8a8a" stroke-width="0.9"/>
<line x1="147.5" y1="105.3" x2="147.5" y2="109.8" stroke="#8a8a8a" stroke-width="1.0"/>
<line x1="145.7" y1="107.5" x2="149.3" y2="107.5" stroke="#8a8a8a" stroke-width="0.9"/>
<line x1="152.5" y1="107.8" x2="152.5" y2="112.2" stroke="#8a8a8a" stroke-width="1.0"/>
<line x1="150.7" y1="110.0" x2="154.3" y2="110.0" stroke="#8a8a8a" stroke-width="0.9"/>
<line x1="157.5" y1="108.2" x2="157.5" y2="112.7" stroke="#8a8a8a" stroke-width="1.0"/>
<line x1="155.7" y1="110.5" x2="159.3" y2="110.5" stroke="#8a8a8a" stroke-width="0.9"/>
<line x1="169.5" y1="115.8" x2="169.5" y2="120.3" stroke="#8a8a8a" stroke-width="1.0"/>
<line x1="167.7" y1="118.1" x2="171.3" y2="118.1" stroke="#8a8a8a" stroke-width="0.9"/>
<line x1="172.5" y1="115.9" x2="172.5" y2="120.4" stroke="#8a8a8a" stroke-width="1.0"/>
<line x1="170.7" y1="118.2" x2="174.3" y2="118.2" stroke="#8a8a8a" stroke-width="0.9"/>
<line x1="175.5" y1="116.0" x2="175.5" y2="120.5" stroke="#8a8a8a" stroke-width="1.0"/>
<line x1="173.7" y1="118.2" x2="177.3" y2="118.2" stroke="#8a8a8a" stroke-width="0.9"/>
<line x1="178.5" y1="116.1" x2="178.5" y2="120.6" stroke="#8a8a8a" stroke-width="1.0"/>
<line x1="176.7" y1="118.3" x2="180.3" y2="118.3" stroke="#8a8a8a" stroke-width="0.9"/>
<line x1="182.5" y1="116.2" x2="182.5" y2="120.7" stroke="#8a8a8a" stroke-width="1.0"/>
<line x1="180.7" y1="118.5" x2="184.3" y2="118.5" stroke="#8a8a8a" stroke-width="0.9"/>
<line x1="184.5" y1="127.8" x2="184.5" y2="132.2" stroke="#8a8a8a" stroke-width="1.0"/>
<line x1="182.7" y1="130.0" x2="186.3" y2="130.0" stroke="#8a8a8a" stroke-width="0.9"/>
<line x1="187.5" y1="127.8" x2="187.5" y2="132.2" stroke="#8a8a8a" stroke-width="1.0"/>
<line x1="185.7" y1="130.0" x2="189.3" y2="130.0" stroke="#8a8a8a" stroke-width="0.9"/>
<line x1="190.5" y1="127.8" x2="190.5" y2="132.2" stroke="#8a8a8a" stroke-width="1.0"/>
<line x1="188.7" y1="130.0" x2="192.3" y2="130.0" stroke="#8a8a8a" stroke-width="0.9"/>
<line x1="201.5" y1="136.8" x2="201.5" y2="141.2" stroke="#8a8a8a" stroke-width="1.0"/>
<line x1="199.7" y1="139.0" x2="203.3" y2="139.0" stroke="#8a8a8a" stroke-width="0.9"/>
<line x1="206.5" y1="136.8" x2="206.5" y2="141.2" stroke="#8a8a8a" stroke-width="1.0"/>
<line x1="204.7" y1="139.0" x2="208.3" y2="139.0" stroke="#8a8a8a" stroke-width="0.9"/>
<line x1="209.5" y1="152.8" x2="209.5" y2="157.2" stroke="#8a8a8a" stroke-width="1.0"/>
<line x1="207.7" y1="155.0" x2="211.3" y2="155.0" stroke="#8a8a8a" stroke-width="0.9"/>
<line x1="226.5" y1="152.8" x2="226.5" y2="157.2" stroke="#8a8a8a" stroke-width="1.0"/>
<line x1="224.7" y1="155.0" x2="228.3" y2="155.0" stroke="#8a8a8a" stroke-width="0.9"/>
<polyline points="31.0,29.0 44.0,29.5 47.0,30.5 49.0,32.0 52.0,33.5 56.0,35.4 62.0,35.8 64.0,38.0 66.0,40.8 68.0,42.3 80.0,42.3 82.0,45.0 85.0,47.7 88.0,51.0 92.0,53.0 95.0,55.4 97.0,56.9 108.5,57.7 115.0,58.5 117.0,60.0 118.5,62.5 131.0,63.0 132.0,66.9 135.0,68.5 137.7,71.5 160.0,71.5 161.0,73.5 183.0,74.0 184.0,76.0 185.0,78.0 206.0,78.0 207.0,87.0 215.0,88.0" fill="none" stroke="#333" stroke-width="0.9" stroke-linejoin="miter" />
<line x1="35.5" y1="26.9" x2="35.5" y2="31.4" stroke="#222" stroke-width="1.0"/>
<line x1="33.7" y1="29.2" x2="37.3" y2="29.2" stroke="#222" stroke-width="0.9"/>
<line x1="49.5" y1="29.8" x2="49.5" y2="34.2" stroke="#222" stroke-width="1.0"/>
<line x1="47.7" y1="32.0" x2="51.3" y2="32.0" stroke="#222" stroke-width="0.9"/>
<line x1="62.5" y1="33.5" x2="62.5" y2="38.0" stroke="#222" stroke-width="1.0"/>
<line x1="60.7" y1="35.8" x2="64.3" y2="35.8" stroke="#222" stroke-width="0.9"/>
<line x1="64.5" y1="36.5" x2="64.5" y2="41.0" stroke="#222" stroke-width="1.0"/>
<line x1="62.7" y1="38.7" x2="66.3" y2="38.7" stroke="#222" stroke-width="0.9"/>
<line x1="71.5" y1="40.0" x2="71.5" y2="44.5" stroke="#222" stroke-width="1.0"/>
<line x1="69.7" y1="42.3" x2="73.3" y2="42.3" stroke="#222" stroke-width="0.9"/>
<line x1="74.5" y1="40.0" x2="74.5" y2="44.5" stroke="#222" stroke-width="1.0"/>
<line x1="72.7" y1="42.3" x2="76.3" y2="42.3" stroke="#222" stroke-width="0.9"/>
<line x1="90.5" y1="49.8" x2="90.5" y2="54.2" stroke="#222" stroke-width="1.0"/>
<line x1="88.7" y1="52.0" x2="92.3" y2="52.0" stroke="#222" stroke-width="0.9"/>
<line x1="92.5" y1="50.8" x2="92.5" y2="55.2" stroke="#222" stroke-width="1.0"/>
<line x1="90.7" y1="53.0" x2="94.3" y2="53.0" stroke="#222" stroke-width="0.9"/>
<line x1="93.5" y1="52.0" x2="93.5" y2="56.5" stroke="#222" stroke-width="1.0"/>
<line x1="91.7" y1="54.2" x2="95.3" y2="54.2" stroke="#222" stroke-width="0.9"/>
<line x1="101.5" y1="55.0" x2="101.5" y2="59.5" stroke="#222" stroke-width="1.0"/>
<line x1="99.7" y1="57.2" x2="103.3" y2="57.2" stroke="#222" stroke-width="0.9"/>
<line x1="103.5" y1="55.1" x2="103.5" y2="59.6" stroke="#222" stroke-width="1.0"/>
<line x1="101.7" y1="57.3" x2="105.3" y2="57.3" stroke="#222" stroke-width="0.9"/>
<line x1="105.5" y1="55.2" x2="105.5" y2="59.7" stroke="#222" stroke-width="1.0"/>
<line x1="103.7" y1="57.5" x2="107.3" y2="57.5" stroke="#222" stroke-width="0.9"/>
<line x1="114.5" y1="56.2" x2="114.5" y2="60.7" stroke="#222" stroke-width="1.0"/>
<line x1="112.7" y1="58.5" x2="116.3" y2="58.5" stroke="#222" stroke-width="0.9"/>
<line x1="118.5" y1="60.2" x2="118.5" y2="64.8" stroke="#222" stroke-width="1.0"/>
<line x1="116.7" y1="62.5" x2="120.3" y2="62.5" stroke="#222" stroke-width="0.9"/>
<line x1="121.5" y1="60.4" x2="121.5" y2="64.9" stroke="#222" stroke-width="1.0"/>
<line x1="119.7" y1="62.6" x2="123.3" y2="62.6" stroke="#222" stroke-width="0.9"/>
<line x1="124.5" y1="60.5" x2="124.5" y2="65.0" stroke="#222" stroke-width="1.0"/>
<line x1="122.7" y1="62.7" x2="126.3" y2="62.7" stroke="#222" stroke-width="0.9"/>
<line x1="137.5" y1="69.2" x2="137.5" y2="73.8" stroke="#222" stroke-width="1.0"/>
<line x1="135.7" y1="71.5" x2="139.3" y2="71.5" stroke="#222" stroke-width="0.9"/>
<line x1="140.5" y1="69.2" x2="140.5" y2="73.8" stroke="#222" stroke-width="1.0"/>
<line x1="138.7" y1="71.5" x2="142.3" y2="71.5" stroke="#222" stroke-width="0.9"/>
<line x1="149.5" y1="69.2" x2="149.5" y2="73.8" stroke="#222" stroke-width="1.0"/>
<line x1="147.7" y1="71.5" x2="151.3" y2="71.5" stroke="#222" stroke-width="0.9"/>
<line x1="154.5" y1="69.2" x2="154.5" y2="73.8" stroke="#222" stroke-width="1.0"/>
<line x1="152.7" y1="71.5" x2="156.3" y2="71.5" stroke="#222" stroke-width="0.9"/>
<line x1="155.5" y1="69.2" x2="155.5" y2="73.8" stroke="#222" stroke-width="1.0"/>
<line x1="153.7" y1="71.5" x2="157.3" y2="71.5" stroke="#222" stroke-width="0.9"/>
<line x1="157.5" y1="69.2" x2="157.5" y2="73.8" stroke="#222" stroke-width="1.0"/>
<line x1="155.7" y1="71.5" x2="159.3" y2="71.5" stroke="#222" stroke-width="0.9"/>
<line x1="160.5" y1="69.2" x2="160.5" y2="73.8" stroke="#222" stroke-width="1.0"/>
<line x1="158.7" y1="71.5" x2="162.3" y2="71.5" stroke="#222" stroke-width="0.9"/>
<line x1="165.5" y1="71.3" x2="165.5" y2="75.8" stroke="#222" stroke-width="1.0"/>
<line x1="163.7" y1="73.6" x2="167.3" y2="73.6" stroke="#222" stroke-width="0.9"/>
<line x1="167.5" y1="71.4" x2="167.5" y2="75.9" stroke="#222" stroke-width="1.0"/>
<line x1="165.7" y1="73.6" x2="169.3" y2="73.6" stroke="#222" stroke-width="0.9"/>
<line x1="169.5" y1="71.4" x2="169.5" y2="75.9" stroke="#222" stroke-width="1.0"/>
<line x1="167.7" y1="73.7" x2="171.3" y2="73.7" stroke="#222" stroke-width="0.9"/>
<line x1="172.5" y1="71.5" x2="172.5" y2="76.0" stroke="#222" stroke-width="1.0"/>
<line x1="170.7" y1="73.8" x2="174.3" y2="73.8" stroke="#222" stroke-width="0.9"/>
<line x1="176.5" y1="71.6" x2="176.5" y2="76.1" stroke="#222" stroke-width="1.0"/>
<line x1="174.7" y1="73.8" x2="178.3" y2="73.8" stroke="#222" stroke-width="0.9"/>
<line x1="177.5" y1="71.6" x2="177.5" y2="76.1" stroke="#222" stroke-width="1.0"/>
<line x1="175.7" y1="73.9" x2="179.3" y2="73.9" stroke="#222" stroke-width="0.9"/>
<line x1="183.5" y1="71.8" x2="183.5" y2="76.2" stroke="#222" stroke-width="1.0"/>
<line x1="181.7" y1="74.0" x2="185.3" y2="74.0" stroke="#222" stroke-width="0.9"/>
<line x1="187.5" y1="75.8" x2="187.5" y2="80.2" stroke="#222" stroke-width="1.0"/>
<line x1="185.7" y1="78.0" x2="189.3" y2="78.0" stroke="#222" stroke-width="0.9"/>
<line x1="190.5" y1="75.8" x2="190.5" y2="80.2" stroke="#222" stroke-width="1.0"/>
<line x1="188.7" y1="78.0" x2="192.3" y2="78.0" stroke="#222" stroke-width="0.9"/>
<line x1="191.5" y1="75.8" x2="191.5" y2="80.2" stroke="#222" stroke-width="1.0"/>
<line x1="189.7" y1="78.0" x2="193.3" y2="78.0" stroke="#222" stroke-width="0.9"/>
<line x1="193.5" y1="75.8" x2="193.5" y2="80.2" stroke="#222" stroke-width="1.0"/>
<line x1="191.7" y1="78.0" x2="195.3" y2="78.0" stroke="#222" stroke-width="0.9"/>
<line x1="195.5" y1="75.8" x2="195.5" y2="80.2" stroke="#222" stroke-width="1.0"/>
<line x1="193.7" y1="78.0" x2="197.3" y2="78.0" stroke="#222" stroke-width="0.9"/>
<line x1="198.5" y1="75.8" x2="198.5" y2="80.2" stroke="#222" stroke-width="1.0"/>
<line x1="196.7" y1="78.0" x2="200.3" y2="78.0" stroke="#222" stroke-width="0.9"/>
<line x1="201.5" y1="75.8" x2="201.5" y2="80.2" stroke="#222" stroke-width="1.0"/>
<line x1="199.7" y1="78.0" x2="203.3" y2="78.0" stroke="#222" stroke-width="0.9"/>
<line x1="204.5" y1="75.8" x2="204.5" y2="80.2" stroke="#222" stroke-width="1.0"/>
<line x1="202.7" y1="78.0" x2="206.3" y2="78.0" stroke="#222" stroke-width="0.9"/>
<line x1="207.5" y1="84.8" x2="207.5" y2="89.3" stroke="#222" stroke-width="1.0"/>
<line x1="205.7" y1="87.1" x2="209.3" y2="87.1" stroke="#222" stroke-width="0.9"/>
<line x1="209.5" y1="85.0" x2="209.5" y2="89.5" stroke="#222" stroke-width="1.0"/>
<line x1="207.7" y1="87.2" x2="211.3" y2="87.2" stroke="#222" stroke-width="0.9"/>
<line x1="211.5" y1="85.2" x2="211.5" y2="89.8" stroke="#222" stroke-width="1.0"/>
<line x1="209.7" y1="87.5" x2="213.3" y2="87.5" stroke="#222" stroke-width="0.9"/>
<line x1="213.5" y1="85.5" x2="213.5" y2="90.0" stroke="#222" stroke-width="1.0"/>
<line x1="211.7" y1="87.8" x2="215.3" y2="87.8" stroke="#222" stroke-width="0.9"/>
<line x1="215.5" y1="85.8" x2="215.5" y2="90.2" stroke="#222" stroke-width="1.0"/>
<line x1="213.7" y1="88.0" x2="217.3" y2="88.0" stroke="#222" stroke-width="0.9"/>
<line x1="222.5" y1="85.8" x2="222.5" y2="90.2" stroke="#222" stroke-width="1.0"/>
<line x1="229.5" y1="86.8" x2="229.5" y2="91.2" stroke="#222" stroke-width="1.0"/>
<line x1="220.7" y1="88.0" x2="224.3" y2="88.0" stroke="#222" stroke-width="0.9"/>
<line x1="227.7" y1="89.0" x2="231.3" y2="89.0" stroke="#222" stroke-width="0.9"/>
<line x1="209.0" y1="86.0" x2="214.0" y2="82.0" stroke="#555" stroke-width="0.8"/>
<text x="216.5" y="80.5" font-size="6.5" fill="#444" text-anchor="middle" font-weight="normal" font-style="normal" >0</text>
<line x1="229.5" y1="154.5" x2="233.5" y2="148.5" stroke="#888" stroke-width="0.8"/>
<line x1="236.5" y1="141.5" x2="236.5" y2="146.0" stroke="#555" stroke-width="1.2"/>
<polyline points="299.0,31.0 303.0,32.0 308.0,35.0 312.0,39.0 313.0,45.0 316.0,50.0 319.0,54.0 323.0,58.5 328.0,62.0 330.0,67.0 335.0,70.5 340.0,74.0 345.0,77.0 350.0,79.0 355.0,80.5 356.0,84.0 360.0,87.5 364.6,89.2 369.0,89.5 374.0,90.8 377.0,92.3 380.0,93.8 383.0,96.2 388.0,97.7 394.0,99.2 398.5,100.8 402.0,101.5 406.0,102.3 409.0,103.1 412.3,104.6 415.4,106.9 418.5,107.7 421.5,109.2 427.7,110.0 455.0,110.0 455.0,128.0 460.0,128.0 460.0,165.0 480.0,165.0" fill="none" stroke="#b2b2b2" stroke-width="1.0" stroke-linejoin="miter" />
<line x1="364.5" y1="86.7" x2="364.5" y2="91.2" stroke="#8a8a8a" stroke-width="1.0"/>
<line x1="362.7" y1="89.0" x2="366.3" y2="89.0" stroke="#8a8a8a" stroke-width="0.9"/>
<line x1="366.5" y1="87.0" x2="366.5" y2="91.5" stroke="#8a8a8a" stroke-width="1.0"/>
<line x1="364.7" y1="89.3" x2="368.3" y2="89.3" stroke="#8a8a8a" stroke-width="0.9"/>
<line x1="369.5" y1="87.2" x2="369.5" y2="91.8" stroke="#8a8a8a" stroke-width="1.0"/>
<line x1="367.7" y1="89.5" x2="371.3" y2="89.5" stroke="#8a8a8a" stroke-width="0.9"/>
<line x1="372.5" y1="88.0" x2="372.5" y2="92.5" stroke="#8a8a8a" stroke-width="1.0"/>
<line x1="370.7" y1="90.3" x2="374.3" y2="90.3" stroke="#8a8a8a" stroke-width="0.9"/>
<line x1="374.5" y1="88.5" x2="374.5" y2="93.0" stroke="#8a8a8a" stroke-width="1.0"/>
<line x1="372.7" y1="90.8" x2="376.3" y2="90.8" stroke="#8a8a8a" stroke-width="0.9"/>
<line x1="377.5" y1="90.0" x2="377.5" y2="94.5" stroke="#8a8a8a" stroke-width="1.0"/>
<line x1="375.7" y1="92.3" x2="379.3" y2="92.3" stroke="#8a8a8a" stroke-width="0.9"/>
<line x1="382.5" y1="93.2" x2="382.5" y2="97.7" stroke="#8a8a8a" stroke-width="1.0"/>
<line x1="380.7" y1="95.4" x2="384.3" y2="95.4" stroke="#8a8a8a" stroke-width="0.9"/>
<line x1="386.5" y1="94.9" x2="386.5" y2="99.4" stroke="#8a8a8a" stroke-width="1.0"/>
<line x1="384.7" y1="97.1" x2="388.3" y2="97.1" stroke="#8a8a8a" stroke-width="0.9"/>
<line x1="389.5" y1="95.7" x2="389.5" y2="100.2" stroke="#8a8a8a" stroke-width="1.0"/>
<line x1="387.7" y1="98.0" x2="391.3" y2="98.0" stroke="#8a8a8a" stroke-width="0.9"/>
<line x1="391.5" y1="96.2" x2="391.5" y2="100.7" stroke="#8a8a8a" stroke-width="1.0"/>
<line x1="389.7" y1="98.5" x2="393.3" y2="98.5" stroke="#8a8a8a" stroke-width="0.9"/>
<line x1="394.5" y1="97.0" x2="394.5" y2="101.5" stroke="#8a8a8a" stroke-width="1.0"/>
<line x1="392.7" y1="99.2" x2="396.3" y2="99.2" stroke="#8a8a8a" stroke-width="0.9"/>
<line x1="397.5" y1="98.0" x2="397.5" y2="102.5" stroke="#8a8a8a" stroke-width="1.0"/>
<line x1="395.7" y1="100.3" x2="399.3" y2="100.3" stroke="#8a8a8a" stroke-width="0.9"/>
<line x1="402.5" y1="99.2" x2="402.5" y2="103.8" stroke="#8a8a8a" stroke-width="1.0"/>
<line x1="400.7" y1="101.5" x2="404.3" y2="101.5" stroke="#8a8a8a" stroke-width="0.9"/>
<line x1="405.5" y1="99.8" x2="405.5" y2="104.3" stroke="#8a8a8a" stroke-width="1.0"/>
<line x1="403.7" y1="102.1" x2="407.3" y2="102.1" stroke="#8a8a8a" stroke-width="0.9"/>
<line x1="407.5" y1="100.3" x2="407.5" y2="104.8" stroke="#8a8a8a" stroke-width="1.0"/>
<line x1="405.7" y1="102.6" x2="409.3" y2="102.6" stroke="#8a8a8a" stroke-width="0.9"/>
<line x1="410.5" y1="101.3" x2="410.5" y2="105.8" stroke="#8a8a8a" stroke-width="1.0"/>
<line x1="408.7" y1="103.6" x2="412.3" y2="103.6" stroke="#8a8a8a" stroke-width="0.9"/>
<line x1="413.5" y1="102.9" x2="413.5" y2="107.4" stroke="#8a8a8a" stroke-width="1.0"/>
<line x1="411.7" y1="105.1" x2="415.3" y2="105.1" stroke="#8a8a8a" stroke-width="0.9"/>
<line x1="416.5" y1="104.8" x2="416.5" y2="109.3" stroke="#8a8a8a" stroke-width="1.0"/>
<line x1="414.7" y1="107.1" x2="418.3" y2="107.1" stroke="#8a8a8a" stroke-width="0.9"/>
<line x1="422.5" y1="107.0" x2="422.5" y2="111.5" stroke="#8a8a8a" stroke-width="1.0"/>
<line x1="420.7" y1="109.3" x2="424.3" y2="109.3" stroke="#8a8a8a" stroke-width="0.9"/>
<line x1="424.5" y1="107.3" x2="424.5" y2="111.8" stroke="#8a8a8a" stroke-width="1.0"/>
<line x1="422.7" y1="109.5" x2="426.3" y2="109.5" stroke="#8a8a8a" stroke-width="0.9"/>
<line x1="429.5" y1="107.8" x2="429.5" y2="112.2" stroke="#8a8a8a" stroke-width="1.0"/>
<line x1="427.7" y1="110.0" x2="431.3" y2="110.0" stroke="#8a8a8a" stroke-width="0.9"/>
<line x1="432.5" y1="107.8" x2="432.5" y2="112.2" stroke="#8a8a8a" stroke-width="1.0"/>
<line x1="430.7" y1="110.0" x2="434.3" y2="110.0" stroke="#8a8a8a" stroke-width="0.9"/>
<line x1="434.5" y1="107.8" x2="434.5" y2="112.2" stroke="#8a8a8a" stroke-width="1.0"/>
<line x1="432.7" y1="110.0" x2="436.3" y2="110.0" stroke="#8a8a8a" stroke-width="0.9"/>
<line x1="437.5" y1="107.8" x2="437.5" y2="112.2" stroke="#8a8a8a" stroke-width="1.0"/>
<line x1="435.7" y1="110.0" x2="439.3" y2="110.0" stroke="#8a8a8a" stroke-width="0.9"/>
<line x1="439.5" y1="107.8" x2="439.5" y2="112.2" stroke="#8a8a8a" stroke-width="1.0"/>
<line x1="437.7" y1="110.0" x2="441.3" y2="110.0" stroke="#8a8a8a" stroke-width="0.9"/>
<line x1="447.5" y1="107.8" x2="447.5" y2="112.2" stroke="#8a8a8a" stroke-width="1.0"/>
<line x1="445.7" y1="110.0" x2="449.3" y2="110.0" stroke="#8a8a8a" stroke-width="0.9"/>
<line x1="458.5" y1="125.8" x2="458.5" y2="130.2" stroke="#8a8a8a" stroke-width="1.0"/>
<line x1="456.7" y1="128.0" x2="460.3" y2="128.0" stroke="#8a8a8a" stroke-width="0.9"/>
<polyline points="299.0,31.0 308.0,32.0 311.0,35.0 318.0,38.0 325.0,41.5 331.0,44.0 337.0,45.0 343.0,47.5 350.0,50.5 357.0,52.5 360.0,53.5 364.6,54.6 369.2,56.2 372.3,57.7 375.4,60.0 380.0,62.3 384.6,63.1 390.8,64.6 396.9,66.9 403.1,69.2 406.2,70.8 410.8,73.1 415.4,75.4 418.5,76.9 424.6,79.2 430.8,81.5 435.4,83.8 440.0,84.6 448.0,91.0 450.0,92.5 473.5,92.5 473.5,97.5 496.0,97.5" fill="none" stroke="#3a3a3a" stroke-width="1.0" stroke-linejoin="miter" />
<polyline points="357.0,52.5 357.0,52.5 360.0,53.5 364.6,54.6 369.2,56.2 372.3,57.7 375.4,60.0 380.0,62.3 384.6,63.1 390.8,64.6 396.9,66.9 403.1,69.2 406.2,70.8 410.8,73.1 415.4,75.4 418.5,76.9 424.6,79.2 430.8,81.5 435.4,83.8 440.0,84.6 448.0,91.0 450.0,92.5 473.5,92.5 473.5,92.5 473.5,92.5" fill="none" stroke="#0a0a0a" stroke-width="2.0" stroke-linejoin="miter" />
<line x1="357.0" y1="50.5" x2="357.0" y2="54.5" stroke="#0a0a0a" stroke-width="1.0"/>
<line x1="358.1" y1="51.1" x2="358.1" y2="54.6" stroke="#0a0a0a" stroke-width="1.5"/>
<line x1="358.8" y1="51.0" x2="358.8" y2="55.3" stroke="#0a0a0a" stroke-width="1.5"/>
<line x1="359.7" y1="51.6" x2="359.7" y2="55.2" stroke="#0a0a0a" stroke-width="1.2"/>
<line x1="360.5" y1="51.8" x2="360.5" y2="55.4" stroke="#0a0a0a" stroke-width="1.2"/>
<line x1="361.2" y1="51.7" x2="361.2" y2="55.9" stroke="#0a0a0a" stroke-width="1.0"/>
<line x1="362.5" y1="51.9" x2="362.5" y2="56.3" stroke="#0a0a0a" stroke-width="1.0"/>
<line x1="363.7" y1="52.4" x2="363.7" y2="56.4" stroke="#0a0a0a" stroke-width="1.0"/>
<line x1="364.5" y1="52.2" x2="364.5" y2="56.9" stroke="#0a0a0a" stroke-width="1.2"/>
<line x1="365.6" y1="52.8" x2="365.6" y2="57.1" stroke="#0a0a0a" stroke-width="1.5"/>
<line x1="366.5" y1="53.0" x2="366.5" y2="57.6" stroke="#0a0a0a" stroke-width="1.0"/>
<line x1="367.3" y1="53.4" x2="367.3" y2="57.7" stroke="#0a0a0a" stroke-width="1.0"/>
<line x1="368.4" y1="53.8" x2="368.4" y2="58.0" stroke="#0a0a0a" stroke-width="1.0"/>
<line x1="369.6" y1="54.2" x2="369.6" y2="58.6" stroke="#0a0a0a" stroke-width="1.2"/>
<line x1="370.9" y1="55.0" x2="370.9" y2="59.1" stroke="#0a0a0a" stroke-width="1.2"/>
<line x1="372.0" y1="55.2" x2="372.0" y2="60.0" stroke="#0a0a0a" stroke-width="1.2"/>
<line x1="373.0" y1="55.9" x2="373.0" y2="60.5" stroke="#0a0a0a" stroke-width="1.5"/>
<line x1="374.4" y1="57.4" x2="374.4" y2="61.0" stroke="#0a0a0a" stroke-width="1.2"/>
<line x1="375.5" y1="57.7" x2="375.5" y2="62.4" stroke="#0a0a0a" stroke-width="1.5"/>
<line x1="376.6" y1="58.4" x2="376.6" y2="62.8" stroke="#0a0a0a" stroke-width="1.0"/>
<line x1="377.5" y1="59.0" x2="377.5" y2="63.1" stroke="#0a0a0a" stroke-width="1.2"/>
<line x1="378.3" y1="59.4" x2="378.3" y2="63.5" stroke="#0a0a0a" stroke-width="1.0"/>
<line x1="379.9" y1="60.4" x2="379.9" y2="64.0" stroke="#0a0a0a" stroke-width="1.5"/>
<line x1="381.1" y1="60.1" x2="381.1" y2="64.8" stroke="#0a0a0a" stroke-width="1.2"/>
<line x1="382.1" y1="60.7" x2="382.1" y2="64.7" stroke="#0a0a0a" stroke-width="1.2"/>
<line x1="383.3" y1="60.8" x2="383.3" y2="64.9" stroke="#0a0a0a" stroke-width="1.0"/>
<line x1="384.9" y1="61.1" x2="384.9" y2="65.2" stroke="#0a0a0a" stroke-width="1.5"/>
<line x1="385.6" y1="61.1" x2="385.6" y2="65.6" stroke="#0a0a0a" stroke-width="1.2"/>
<line x1="386.9" y1="61.2" x2="386.9" y2="66.1" stroke="#0a0a0a" stroke-width="1.2"/>
<line x1="387.8" y1="61.9" x2="387.8" y2="65.9" stroke="#0a0a0a" stroke-width="1.5"/>
<line x1="388.9" y1="61.7" x2="388.9" y2="66.5" stroke="#0a0a0a" stroke-width="1.2"/>
<line x1="389.7" y1="62.5" x2="389.7" y2="66.2" stroke="#0a0a0a" stroke-width="1.0"/>
<line x1="390.6" y1="62.6" x2="390.6" y2="66.5" stroke="#0a0a0a" stroke-width="1.5"/>
<line x1="391.5" y1="62.9" x2="391.5" y2="66.9" stroke="#0a0a0a" stroke-width="1.2"/>
<line x1="392.3" y1="63.1" x2="392.3" y2="67.2" stroke="#0a0a0a" stroke-width="1.5"/>
<line x1="393.3" y1="63.7" x2="393.3" y2="67.4" stroke="#0a0a0a" stroke-width="1.2"/>
<line x1="394.7" y1="64.1" x2="394.7" y2="68.0" stroke="#0a0a0a" stroke-width="1.2"/>
<line x1="396.3" y1="64.5" x2="396.3" y2="68.9" stroke="#0a0a0a" stroke-width="1.2"/>
<line x1="397.9" y1="65.4" x2="397.9" y2="69.1" stroke="#0a0a0a" stroke-width="1.0"/>
<line x1="398.7" y1="65.4" x2="398.7" y2="69.8" stroke="#0a0a0a" stroke-width="1.0"/>
<line x1="399.9" y1="65.8" x2="399.9" y2="70.2" stroke="#0a0a0a" stroke-width="1.2"/>
<line x1="400.8" y1="66.5" x2="400.8" y2="70.2" stroke="#0a0a0a" stroke-width="1.5"/>
<line x1="401.8" y1="66.6" x2="401.8" y2="70.9" stroke="#0a0a0a" stroke-width="1.0"/>
<line x1="403.2" y1="67.1" x2="403.2" y2="71.3" stroke="#0a0a0a" stroke-width="1.5"/>
<line x1="404.5" y1="67.6" x2="404.5" y2="72.2" stroke="#0a0a0a" stroke-width="1.2"/>
<line x1="406.0" y1="68.4" x2="406.0" y2="73.0" stroke="#0a0a0a" stroke-width="1.5"/>
<line x1="407.4" y1="69.4" x2="407.4" y2="73.4" stroke="#0a0a0a" stroke-width="1.2"/>
<line x1="408.4" y1="69.8" x2="408.4" y2="74.0" stroke="#0a0a0a" stroke-width="1.2"/>
<line x1="409.2" y1="70.5" x2="409.2" y2="74.1" stroke="#0a0a0a" stroke-width="1.0"/>
<line x1="410.3" y1="71.0" x2="410.3" y2="74.7" stroke="#0a0a0a" stroke-width="1.5"/>
<line x1="411.0" y1="71.5" x2="411.0" y2="75.0" stroke="#0a0a0a" stroke-width="1.0"/>
<line x1="412.2" y1="71.4" x2="412.2" y2="76.2" stroke="#0a0a0a" stroke-width="1.5"/>
<line x1="412.9" y1="71.8" x2="412.9" y2="76.5" stroke="#0a0a0a" stroke-width="1.5"/>
<line x1="414.0" y1="72.5" x2="414.0" y2="76.9" stroke="#0a0a0a" stroke-width="1.2"/>
<line x1="415.2" y1="73.2" x2="415.2" y2="77.4" stroke="#0a0a0a" stroke-width="1.0"/>
<line x1="416.7" y1="73.6" x2="416.7" y2="78.5" stroke="#0a0a0a" stroke-width="1.2"/>
<line x1="417.8" y1="74.6" x2="417.8" y2="78.5" stroke="#0a0a0a" stroke-width="1.0"/>
<line x1="418.6" y1="75.0" x2="418.6" y2="78.9" stroke="#0a0a0a" stroke-width="1.2"/>
<line x1="419.7" y1="75.1" x2="419.7" y2="79.6" stroke="#0a0a0a" stroke-width="1.5"/>
<line x1="420.5" y1="75.2" x2="420.5" y2="80.1" stroke="#0a0a0a" stroke-width="1.5"/>
<line x1="421.5" y1="75.8" x2="421.5" y2="80.3" stroke="#0a0a0a" stroke-width="1.0"/>
<line x1="422.9" y1="76.6" x2="422.9" y2="80.5" stroke="#0a0a0a" stroke-width="1.5"/>
<line x1="424.3" y1="76.9" x2="424.3" y2="81.3" stroke="#0a0a0a" stroke-width="1.2"/>
<line x1="425.5" y1="77.2" x2="425.5" y2="81.9" stroke="#0a0a0a" stroke-width="1.2"/>
<line x1="426.9" y1="77.9" x2="426.9" y2="82.2" stroke="#0a0a0a" stroke-width="1.5"/>
<line x1="427.9" y1="78.5" x2="427.9" y2="82.3" stroke="#0a0a0a" stroke-width="1.0"/>
<line x1="429.3" y1="78.6" x2="429.3" y2="83.3" stroke="#0a0a0a" stroke-width="1.5"/>
<line x1="430.8" y1="79.6" x2="430.8" y2="83.4" stroke="#0a0a0a" stroke-width="1.2"/>
<line x1="431.8" y1="80.2" x2="431.8" y2="83.8" stroke="#0a0a0a" stroke-width="1.0"/>
<line x1="433.2" y1="80.6" x2="433.2" y2="84.8" stroke="#0a0a0a" stroke-width="1.0"/>
<line x1="434.5" y1="80.9" x2="434.5" y2="85.8" stroke="#0a0a0a" stroke-width="1.2"/>
<line x1="435.9" y1="81.6" x2="435.9" y2="86.1" stroke="#0a0a0a" stroke-width="1.2"/>
<line x1="437.5" y1="82.2" x2="437.5" y2="86.2" stroke="#0a0a0a" stroke-width="1.0"/>
<line x1="438.3" y1="82.2" x2="438.3" y2="86.4" stroke="#0a0a0a" stroke-width="1.2"/>
<line x1="439.2" y1="82.3" x2="439.2" y2="86.6" stroke="#0a0a0a" stroke-width="1.5"/>
<line x1="440.6" y1="83.0" x2="440.6" y2="87.2" stroke="#0a0a0a" stroke-width="1.5"/>
<line x1="441.6" y1="83.7" x2="441.6" y2="88.1" stroke="#0a0a0a" stroke-width="1.5"/>
<line x1="442.4" y1="84.5" x2="442.4" y2="88.6" stroke="#0a0a0a" stroke-width="1.5"/>
<line x1="443.8" y1="85.6" x2="443.8" y2="89.7" stroke="#0a0a0a" stroke-width="1.0"/>
<line x1="444.9" y1="86.3" x2="444.9" y2="90.7" stroke="#0a0a0a" stroke-width="1.0"/>
<line x1="446.3" y1="87.2" x2="446.3" y2="92.1" stroke="#0a0a0a" stroke-width="1.2"/>
<line x1="447.4" y1="88.3" x2="447.4" y2="92.8" stroke="#0a0a0a" stroke-width="1.0"/>
<line x1="448.8" y1="89.7" x2="448.8" y2="93.5" stroke="#0a0a0a" stroke-width="1.0"/>
<line x1="449.5" y1="90.0" x2="449.5" y2="94.3" stroke="#0a0a0a" stroke-width="1.2"/>
<line x1="450.9" y1="90.6" x2="450.9" y2="94.4" stroke="#0a0a0a" stroke-width="1.5"/>
<line x1="452.5" y1="90.3" x2="452.5" y2="94.7" stroke="#0a0a0a" stroke-width="1.2"/>
<line x1="453.4" y1="90.4" x2="453.4" y2="94.6" stroke="#0a0a0a" stroke-width="1.0"/>
<line x1="454.1" y1="90.1" x2="454.1" y2="94.9" stroke="#0a0a0a" stroke-width="1.5"/>
<line x1="454.9" y1="90.2" x2="454.9" y2="94.8" stroke="#0a0a0a" stroke-width="1.0"/>
<line x1="456.0" y1="90.1" x2="456.0" y2="94.9" stroke="#0a0a0a" stroke-width="1.0"/>
<line x1="456.7" y1="90.6" x2="456.7" y2="94.4" stroke="#0a0a0a" stroke-width="1.5"/>
<line x1="457.6" y1="90.3" x2="457.6" y2="94.7" stroke="#0a0a0a" stroke-width="1.2"/>
<line x1="458.8" y1="90.2" x2="458.8" y2="94.8" stroke="#0a0a0a" stroke-width="1.0"/>
<line x1="460.3" y1="90.5" x2="460.3" y2="94.5" stroke="#0a0a0a" stroke-width="1.2"/>
<line x1="461.6" y1="90.2" x2="461.6" y2="94.8" stroke="#0a0a0a" stroke-width="1.5"/>
<line x1="462.7" y1="90.1" x2="462.7" y2="94.9" stroke="#0a0a0a" stroke-width="1.5"/>
<line x1="463.5" y1="90.6" x2="463.5" y2="94.4" stroke="#0a0a0a" stroke-width="1.5"/>
<line x1="464.2" y1="90.4" x2="464.2" y2="94.6" stroke="#0a0a0a" stroke-width="1.0"/>
<line x1="465.5" y1="90.2" x2="465.5" y2="94.8" stroke="#0a0a0a" stroke-width="1.0"/>
<line x1="466.3" y1="90.4" x2="466.3" y2="94.6" stroke="#0a0a0a" stroke-width="1.5"/>
<line x1="467.1" y1="90.7" x2="467.1" y2="94.3" stroke="#0a0a0a" stroke-width="1.5"/>
<line x1="468.3" y1="90.4" x2="468.3" y2="94.6" stroke="#0a0a0a" stroke-width="1.0"/>
<line x1="469.8" y1="90.7" x2="469.8" y2="94.3" stroke="#0a0a0a" stroke-width="1.0"/>
<line x1="470.7" y1="90.2" x2="470.7" y2="94.8" stroke="#0a0a0a" stroke-width="1.5"/>
<line x1="471.9" y1="90.7" x2="471.9" y2="94.3" stroke="#0a0a0a" stroke-width="1.0"/>
<line x1="473.0" y1="90.3" x2="473.0" y2="94.7" stroke="#0a0a0a" stroke-width="1.5"/>
<line x1="475.5" y1="95.2" x2="475.5" y2="99.8" stroke="#222" stroke-width="1.0"/>
<line x1="473.7" y1="97.5" x2="477.3" y2="97.5" stroke="#222" stroke-width="0.9"/>
<line x1="479.5" y1="95.2" x2="479.5" y2="99.8" stroke="#222" stroke-width="1.0"/>
<line x1="477.7" y1="97.5" x2="481.3" y2="97.5" stroke="#222" stroke-width="0.9"/>
<line x1="484.5" y1="95.2" x2="484.5" y2="99.8" stroke="#222" stroke-width="1.0"/>
<line x1="482.7" y1="97.5" x2="486.3" y2="97.5" stroke="#222" stroke-width="0.9"/>
<line x1="486.5" y1="95.2" x2="486.5" y2="99.8" stroke="#222" stroke-width="1.0"/>
<line x1="484.7" y1="97.5" x2="488.3" y2="97.5" stroke="#222" stroke-width="0.9"/>
<line x1="489.5" y1="95.2" x2="489.5" y2="99.8" stroke="#222" stroke-width="1.0"/>
<line x1="487.7" y1="97.5" x2="491.3" y2="97.5" stroke="#222" stroke-width="0.9"/>
<line x1="493.5" y1="95.2" x2="493.5" y2="99.8" stroke="#222" stroke-width="1.0"/>
<line x1="491.7" y1="97.5" x2="495.3" y2="97.5" stroke="#222" stroke-width="0.9"/>
<line x1="495.5" y1="95.2" x2="495.5" y2="99.8" stroke="#222" stroke-width="1.0"/>
<line x1="493.7" y1="97.5" x2="497.3" y2="97.5" stroke="#222" stroke-width="0.9"/>
<line x1="480.0" y1="96.0" x2="484.0" y2="90.0" stroke="#555" stroke-width="0.8"/>
<text x="486.5" y="89.0" font-size="6.5" fill="#444" text-anchor="middle" font-weight="normal" font-style="normal" >0</text>
<line x1="462.0" y1="163.0" x2="467.0" y2="158.0" stroke="#aaa" stroke-width="0.8"/>
<text x="468.0" y="156.0" font-size="6.5" fill="#999" text-anchor="middle" font-weight="normal" font-style="normal" >1</text>
<polyline points="31.0,302.5 36.0,306.0 38.0,312.0 40.0,318.0 42.0,324.0 44.0,330.0 47.0,338.0 50.0,342.0 54.0,345.0 58.0,349.0 62.0,353.0 65.0,357.0 69.0,361.0 71.5,364.0 74.0,370.0 77.0,376.0 80.0,381.0 82.0,386.0 84.0,391.0 86.0,395.0 88.0,398.0 90.0,400.0 95.0,404.0 100.0,407.7 104.0,411.5 108.0,414.0 112.0,417.0 116.0,420.0 118.0,423.0 122.0,427.0 128.0,430.0 131.0,434.0 134.0,435.5 161.0,435.5 161.0,441.7 167.5,441.7 167.5,449.0" fill="none" stroke="#b4b4b4" stroke-width="1.0" stroke-linejoin="miter" />
<line x1="36.5" y1="303.8" x2="36.5" y2="308.2" stroke="#8a8a8a" stroke-width="1.0"/>
<line x1="34.7" y1="306.0" x2="38.3" y2="306.0" stroke="#8a8a8a" stroke-width="0.9"/>
<line x1="37.5" y1="308.9" x2="37.5" y2="313.4" stroke="#8a8a8a" stroke-width="1.0"/>
<line x1="35.7" y1="311.1" x2="39.3" y2="311.1" stroke="#8a8a8a" stroke-width="0.9"/>
<line x1="42.5" y1="322.6" x2="42.5" y2="327.1" stroke="#8a8a8a" stroke-width="1.0"/>
<line x1="40.7" y1="324.9" x2="44.3" y2="324.9" stroke="#8a8a8a" stroke-width="0.9"/>
<line x1="47.5" y1="335.8" x2="47.5" y2="340.2" stroke="#8a8a8a" stroke-width="1.0"/>
<line x1="45.7" y1="338.0" x2="49.3" y2="338.0" stroke="#8a8a8a" stroke-width="0.9"/>
<line x1="53.5" y1="342.0" x2="53.5" y2="346.5" stroke="#8a8a8a" stroke-width="1.0"/>
<line x1="51.7" y1="344.2" x2="55.3" y2="344.2" stroke="#8a8a8a" stroke-width="0.9"/>
<line x1="54.5" y1="343.4" x2="54.5" y2="347.9" stroke="#8a8a8a" stroke-width="1.0"/>
<line x1="52.7" y1="345.6" x2="56.3" y2="345.6" stroke="#8a8a8a" stroke-width="0.9"/>
<line x1="60.5" y1="348.8" x2="60.5" y2="353.2" stroke="#8a8a8a" stroke-width="1.0"/>
<line x1="58.7" y1="351.0" x2="62.3" y2="351.0" stroke="#8a8a8a" stroke-width="0.9"/>
<line x1="65.5" y1="355.1" x2="65.5" y2="359.6" stroke="#8a8a8a" stroke-width="1.0"/>
<line x1="63.7" y1="357.4" x2="67.3" y2="357.4" stroke="#8a8a8a" stroke-width="0.9"/>
<line x1="68.5" y1="358.2" x2="68.5" y2="362.8" stroke="#8a8a8a" stroke-width="1.0"/>
<line x1="66.7" y1="360.5" x2="70.3" y2="360.5" stroke="#8a8a8a" stroke-width="0.9"/>
<line x1="70.5" y1="359.9" x2="70.5" y2="364.4" stroke="#8a8a8a" stroke-width="1.0"/>
<line x1="68.7" y1="362.2" x2="72.3" y2="362.2" stroke="#8a8a8a" stroke-width="0.9"/>
<line x1="81.5" y1="382.5" x2="81.5" y2="387.0" stroke="#8a8a8a" stroke-width="1.0"/>
<line x1="79.7" y1="384.8" x2="83.3" y2="384.8" stroke="#8a8a8a" stroke-width="0.9"/>
<line x1="85.5" y1="391.6" x2="85.5" y2="396.1" stroke="#8a8a8a" stroke-width="1.0"/>
<line x1="83.7" y1="393.8" x2="87.3" y2="393.8" stroke="#8a8a8a" stroke-width="0.9"/>
<line x1="88.5" y1="396.2" x2="88.5" y2="400.8" stroke="#8a8a8a" stroke-width="1.0"/>
<line x1="86.7" y1="398.5" x2="90.3" y2="398.5" stroke="#8a8a8a" stroke-width="0.9"/>
<line x1="93.5" y1="400.1" x2="93.5" y2="404.6" stroke="#8a8a8a" stroke-width="1.0"/>
<line x1="91.7" y1="402.4" x2="95.3" y2="402.4" stroke="#8a8a8a" stroke-width="0.9"/>
<line x1="94.5" y1="401.4" x2="94.5" y2="405.9" stroke="#8a8a8a" stroke-width="1.0"/>
<line x1="92.7" y1="403.7" x2="96.3" y2="403.7" stroke="#8a8a8a" stroke-width="0.9"/>
<line x1="96.5" y1="402.5" x2="96.5" y2="407.0" stroke="#8a8a8a" stroke-width="1.0"/>
<line x1="94.7" y1="404.7" x2="98.3" y2="404.7" stroke="#8a8a8a" stroke-width="0.9"/>
<line x1="97.5" y1="403.7" x2="97.5" y2="408.2" stroke="#8a8a8a" stroke-width="1.0"/>
<line x1="95.7" y1="406.0" x2="99.3" y2="406.0" stroke="#8a8a8a" stroke-width="0.9"/>
<line x1="99.5" y1="404.9" x2="99.5" y2="409.4" stroke="#8a8a8a" stroke-width="1.0"/>
<line x1="97.7" y1="407.1" x2="101.3" y2="407.1" stroke="#8a8a8a" stroke-width="0.9"/>
<line x1="100.5" y1="406.2" x2="100.5" y2="410.7" stroke="#8a8a8a" stroke-width="1.0"/>
<line x1="98.7" y1="408.5" x2="102.3" y2="408.5" stroke="#8a8a8a" stroke-width="0.9"/>
<line x1="105.5" y1="410.1" x2="105.5" y2="414.6" stroke="#8a8a8a" stroke-width="1.0"/>
<line x1="103.7" y1="412.4" x2="107.3" y2="412.4" stroke="#8a8a8a" stroke-width="0.9"/>
<line x1="108.5" y1="412.1" x2="108.5" y2="416.6" stroke="#8a8a8a" stroke-width="1.0"/>
<line x1="106.7" y1="414.4" x2="110.3" y2="414.4" stroke="#8a8a8a" stroke-width="0.9"/>
<line x1="109.5" y1="412.6" x2="109.5" y2="417.1" stroke="#8a8a8a" stroke-width="1.0"/>
<line x1="107.7" y1="414.9" x2="111.3" y2="414.9" stroke="#8a8a8a" stroke-width="0.9"/>
<line x1="111.5" y1="414.4" x2="111.5" y2="418.9" stroke="#8a8a8a" stroke-width="1.0"/>
<line x1="109.7" y1="416.6" x2="113.3" y2="416.6" stroke="#8a8a8a" stroke-width="0.9"/>
<line x1="112.5" y1="415.0" x2="112.5" y2="419.5" stroke="#8a8a8a" stroke-width="1.0"/>
<line x1="110.7" y1="417.2" x2="114.3" y2="417.2" stroke="#8a8a8a" stroke-width="0.9"/>
<line x1="116.5" y1="417.8" x2="116.5" y2="422.2" stroke="#8a8a8a" stroke-width="1.0"/>
<line x1="114.7" y1="420.0" x2="118.3" y2="420.0" stroke="#8a8a8a" stroke-width="0.9"/>
<line x1="117.5" y1="420.3" x2="117.5" y2="424.8" stroke="#8a8a8a" stroke-width="1.0"/>
<line x1="115.7" y1="422.6" x2="119.3" y2="422.6" stroke="#8a8a8a" stroke-width="0.9"/>
<line x1="124.5" y1="426.1" x2="124.5" y2="430.6" stroke="#8a8a8a" stroke-width="1.0"/>
<line x1="122.7" y1="428.3" x2="126.3" y2="428.3" stroke="#8a8a8a" stroke-width="0.9"/>
<line x1="128.5" y1="428.4" x2="128.5" y2="432.9" stroke="#8a8a8a" stroke-width="1.0"/>
<line x1="126.7" y1="430.7" x2="130.3" y2="430.7" stroke="#8a8a8a" stroke-width="0.9"/>
<line x1="133.5" y1="433.1" x2="133.5" y2="437.6" stroke="#8a8a8a" stroke-width="1.0"/>
<line x1="131.7" y1="435.4" x2="135.3" y2="435.4" stroke="#8a8a8a" stroke-width="0.9"/>
<line x1="143.5" y1="433.2" x2="143.5" y2="437.8" stroke="#8a8a8a" stroke-width="1.0"/>
<line x1="141.7" y1="435.5" x2="145.3" y2="435.5" stroke="#8a8a8a" stroke-width="0.9"/>
<line x1="147.5" y1="433.2" x2="147.5" y2="437.8" stroke="#8a8a8a" stroke-width="1.0"/>
<line x1="145.7" y1="435.5" x2="149.3" y2="435.5" stroke="#8a8a8a" stroke-width="0.9"/>
<line x1="149.5" y1="433.2" x2="149.5" y2="437.8" stroke="#8a8a8a" stroke-width="1.0"/>
<line x1="147.7" y1="435.5" x2="151.3" y2="435.5" stroke="#8a8a8a" stroke-width="0.9"/>
<line x1="154.5" y1="433.2" x2="154.5" y2="437.8" stroke="#8a8a8a" stroke-width="1.0"/>
<line x1="152.7" y1="435.5" x2="156.3" y2="435.5" stroke="#8a8a8a" stroke-width="0.9"/>
<line x1="174.5" y1="446.5" x2="174.5" y2="451.0" stroke="#aaa" stroke-width="1.0"/>
<line x1="185.5" y1="446.5" x2="185.5" y2="451.0" stroke="#aaa" stroke-width="1.0"/>
<line x1="201.5" y1="446.5" x2="201.5" y2="451.0" stroke="#aaa" stroke-width="1.0"/>
<polyline points="31.0,302.5 37.0,303.0 39.0,307.0 41.0,312.0 44.0,315.0 49.0,316.0 53.0,318.5 57.0,321.0 60.0,325.0 62.0,328.0 64.0,335.0 66.0,338.0 70.0,340.5 75.0,344.0 80.0,348.0 83.0,350.0 87.5,356.0 88.5,363.0 90.0,366.0 92.0,367.5 95.0,369.5 100.0,373.0 102.5,374.0 105.0,378.0 106.5,380.8 109.0,383.0 110.0,384.0 114.0,387.5 116.0,393.0 118.0,395.5 120.0,397.5 124.0,401.5 128.0,403.0 130.5,407.0 132.0,410.0 137.0,413.5 138.0,416.0 144.0,417.0 145.5,423.0 148.5,426.0 155.0,427.5 156.5,431.0 203.0,431.0 203.0,438.0 205.0,440.0 210.0,440.0 210.0,452.0 230.0,452.0" fill="none" stroke="#333" stroke-width="0.9" stroke-linejoin="miter" />
<line x1="36.5" y1="300.7" x2="36.5" y2="305.2" stroke="#222" stroke-width="1.0"/>
<line x1="34.7" y1="302.9" x2="38.3" y2="302.9" stroke="#222" stroke-width="0.9"/>
<line x1="48.5" y1="313.6" x2="48.5" y2="318.1" stroke="#222" stroke-width="1.0"/>
<line x1="46.7" y1="315.9" x2="50.3" y2="315.9" stroke="#222" stroke-width="0.9"/>
<line x1="50.5" y1="314.4" x2="50.5" y2="318.9" stroke="#222" stroke-width="1.0"/>
<line x1="48.7" y1="316.6" x2="52.3" y2="316.6" stroke="#222" stroke-width="0.9"/>
<line x1="56.5" y1="318.1" x2="56.5" y2="322.6" stroke="#222" stroke-width="1.0"/>
<line x1="54.7" y1="320.4" x2="58.3" y2="320.4" stroke="#222" stroke-width="0.9"/>
<line x1="62.5" y1="326.8" x2="62.5" y2="331.3" stroke="#222" stroke-width="1.0"/>
<line x1="60.7" y1="329.1" x2="64.3" y2="329.1" stroke="#222" stroke-width="0.9"/>
<line x1="65.5" y1="334.9" x2="65.5" y2="339.4" stroke="#222" stroke-width="1.0"/>
<line x1="63.7" y1="337.1" x2="67.3" y2="337.1" stroke="#222" stroke-width="0.9"/>
<line x1="67.5" y1="336.4" x2="67.5" y2="340.9" stroke="#222" stroke-width="1.0"/>
<line x1="65.7" y1="338.6" x2="69.3" y2="338.6" stroke="#222" stroke-width="0.9"/>
<line x1="73.5" y1="340.9" x2="73.5" y2="345.4" stroke="#222" stroke-width="1.0"/>
<line x1="71.7" y1="343.2" x2="75.3" y2="343.2" stroke="#222" stroke-width="0.9"/>
<line x1="75.5" y1="342.1" x2="75.5" y2="346.6" stroke="#222" stroke-width="1.0"/>
<line x1="73.7" y1="344.3" x2="77.3" y2="344.3" stroke="#222" stroke-width="0.9"/>
<line x1="82.5" y1="347.3" x2="82.5" y2="351.8" stroke="#222" stroke-width="1.0"/>
<line x1="80.7" y1="349.5" x2="84.3" y2="349.5" stroke="#222" stroke-width="0.9"/>
<line x1="87.5" y1="353.8" x2="87.5" y2="358.2" stroke="#222" stroke-width="1.0"/>
<line x1="85.7" y1="356.0" x2="89.3" y2="356.0" stroke="#222" stroke-width="0.9"/>
<line x1="92.5" y1="365.2" x2="92.5" y2="369.8" stroke="#222" stroke-width="1.0"/>
<line x1="90.7" y1="367.5" x2="94.3" y2="367.5" stroke="#222" stroke-width="0.9"/>
<line x1="102.5" y1="371.8" x2="102.5" y2="376.2" stroke="#222" stroke-width="1.0"/>
<line x1="100.7" y1="374.0" x2="104.3" y2="374.0" stroke="#222" stroke-width="0.9"/>
<line x1="106.5" y1="378.6" x2="106.5" y2="383.1" stroke="#222" stroke-width="1.0"/>
<line x1="104.7" y1="380.8" x2="108.3" y2="380.8" stroke="#222" stroke-width="0.9"/>
<line x1="110.5" y1="381.8" x2="110.5" y2="386.2" stroke="#222" stroke-width="1.0"/>
<line x1="108.7" y1="384.0" x2="112.3" y2="384.0" stroke="#222" stroke-width="0.9"/>
<line x1="119.5" y1="394.4" x2="119.5" y2="398.9" stroke="#222" stroke-width="1.0"/>
<line x1="117.7" y1="396.7" x2="121.3" y2="396.7" stroke="#222" stroke-width="0.9"/>
<line x1="124.5" y1="399.2" x2="124.5" y2="403.8" stroke="#222" stroke-width="1.0"/>
<line x1="122.7" y1="401.5" x2="126.3" y2="401.5" stroke="#222" stroke-width="0.9"/>
<line x1="128.5" y1="400.8" x2="128.5" y2="405.2" stroke="#222" stroke-width="1.0"/>
<line x1="126.7" y1="403.0" x2="130.3" y2="403.0" stroke="#222" stroke-width="0.9"/>
<line x1="133.5" y1="408.4" x2="133.5" y2="412.9" stroke="#222" stroke-width="1.0"/>
<line x1="131.7" y1="410.7" x2="135.3" y2="410.7" stroke="#222" stroke-width="0.9"/>
<line x1="137.5" y1="413.0" x2="137.5" y2="417.5" stroke="#222" stroke-width="1.0"/>
<line x1="135.7" y1="415.2" x2="139.3" y2="415.2" stroke="#222" stroke-width="0.9"/>
<line x1="144.5" y1="417.1" x2="144.5" y2="421.6" stroke="#222" stroke-width="1.0"/>
<line x1="142.7" y1="419.4" x2="146.3" y2="419.4" stroke="#222" stroke-width="0.9"/>
<line x1="150.5" y1="424.1" x2="150.5" y2="428.6" stroke="#222" stroke-width="1.0"/>
<line x1="148.7" y1="426.3" x2="152.3" y2="426.3" stroke="#222" stroke-width="0.9"/>
<line x1="154.5" y1="425.2" x2="154.5" y2="429.7" stroke="#222" stroke-width="1.0"/>
<line x1="152.7" y1="427.4" x2="156.3" y2="427.4" stroke="#222" stroke-width="0.9"/>
<line x1="168.5" y1="428.8" x2="168.5" y2="433.2" stroke="#222" stroke-width="1.0"/>
<line x1="166.7" y1="431.0" x2="170.3" y2="431.0" stroke="#222" stroke-width="0.9"/>
<line x1="173.5" y1="428.8" x2="173.5" y2="433.2" stroke="#222" stroke-width="1.0"/>
<line x1="171.7" y1="431.0" x2="175.3" y2="431.0" stroke="#222" stroke-width="0.9"/>
<line x1="183.5" y1="428.8" x2="183.5" y2="433.2" stroke="#222" stroke-width="1.0"/>
<line x1="181.7" y1="431.0" x2="185.3" y2="431.0" stroke="#222" stroke-width="0.9"/>
<line x1="183.5" y1="428.8" x2="183.5" y2="433.2" stroke="#222" stroke-width="1.0"/>
<line x1="181.7" y1="431.0" x2="185.3" y2="431.0" stroke="#222" stroke-width="0.9"/>
<line x1="187.5" y1="428.8" x2="187.5" y2="433.2" stroke="#222" stroke-width="1.0"/>
<line x1="185.7" y1="431.0" x2="189.3" y2="431.0" stroke="#222" stroke-width="0.9"/>
<line x1="203.5" y1="428.8" x2="203.5" y2="433.2" stroke="#222" stroke-width="1.0"/>
<line x1="201.7" y1="431.0" x2="205.3" y2="431.0" stroke="#222" stroke-width="0.9"/>
<line x1="230.5" y1="449.8" x2="230.5" y2="454.2" stroke="#222" stroke-width="1.0"/>
<line x1="228.7" y1="452.0" x2="232.3" y2="452.0" stroke="#222" stroke-width="0.9"/>
<line x1="212.0" y1="450.0" x2="216.0" y2="445.0" stroke="#555" stroke-width="0.8"/>
<text x="218.5" y="443.5" font-size="6.5" fill="#444" text-anchor="middle" font-weight="normal" font-style="normal" >0</text>
<line x1="86.0" y1="394.0" x2="93.0" y2="383.0" stroke="#ccc" stroke-width="0.8"/>
<polyline points="300.0,307.0 304.0,311.0 308.0,318.0 309.0,322.0 312.0,326.0 314.0,330.0 316.0,333.5 320.0,334.0 322.0,337.0 324.0,342.0 327.0,345.0 330.0,347.0 332.0,351.0 336.0,355.0 340.0,359.0 342.0,363.0 345.0,366.0 348.0,368.0 352.0,371.0 356.0,373.0 358.0,374.0 360.0,374.5 365.0,376.0 372.0,379.0 380.0,381.0 386.0,384.0 388.0,388.0 392.0,390.0 398.0,392.0 408.0,393.0 413.0,395.0 444.0,396.0 444.0,404.5 458.0,404.5 458.0,429.5 488.0,429.5" fill="none" stroke="#bababa" stroke-width="1.0" stroke-linejoin="miter" />
<line x1="361.5" y1="372.6" x2="361.5" y2="377.1" stroke="#8a8a8a" stroke-width="1.0"/>
<line x1="359.7" y1="374.8" x2="363.3" y2="374.8" stroke="#8a8a8a" stroke-width="0.9"/>
<line x1="363.5" y1="373.1" x2="363.5" y2="377.6" stroke="#8a8a8a" stroke-width="1.0"/>
<line x1="361.7" y1="375.4" x2="365.3" y2="375.4" stroke="#8a8a8a" stroke-width="0.9"/>
<line x1="366.5" y1="374.2" x2="366.5" y2="378.7" stroke="#8a8a8a" stroke-width="1.0"/>
<line x1="364.7" y1="376.4" x2="368.3" y2="376.4" stroke="#8a8a8a" stroke-width="0.9"/>
<line x1="369.5" y1="375.5" x2="369.5" y2="380.0" stroke="#8a8a8a" stroke-width="1.0"/>
<line x1="367.7" y1="377.7" x2="371.3" y2="377.7" stroke="#8a8a8a" stroke-width="0.9"/>
<line x1="372.5" y1="376.8" x2="372.5" y2="381.2" stroke="#8a8a8a" stroke-width="1.0"/>
<line x1="370.7" y1="379.0" x2="374.3" y2="379.0" stroke="#8a8a8a" stroke-width="0.9"/>
<line x1="375.5" y1="377.5" x2="375.5" y2="382.0" stroke="#8a8a8a" stroke-width="1.0"/>
<line x1="373.7" y1="379.8" x2="377.3" y2="379.8" stroke="#8a8a8a" stroke-width="0.9"/>
<line x1="378.5" y1="378.2" x2="378.5" y2="382.8" stroke="#8a8a8a" stroke-width="1.0"/>
<line x1="376.7" y1="380.5" x2="380.3" y2="380.5" stroke="#8a8a8a" stroke-width="0.9"/>
<line x1="381.5" y1="379.2" x2="381.5" y2="383.8" stroke="#8a8a8a" stroke-width="1.0"/>
<line x1="379.7" y1="381.5" x2="383.3" y2="381.5" stroke="#8a8a8a" stroke-width="0.9"/>
<line x1="384.5" y1="380.8" x2="384.5" y2="385.2" stroke="#8a8a8a" stroke-width="1.0"/>
<line x1="382.7" y1="383.0" x2="386.3" y2="383.0" stroke="#8a8a8a" stroke-width="0.9"/>
<line x1="390.5" y1="386.8" x2="390.5" y2="391.2" stroke="#8a8a8a" stroke-width="1.0"/>
<line x1="388.7" y1="389.0" x2="392.3" y2="389.0" stroke="#8a8a8a" stroke-width="0.9"/>
<line x1="393.5" y1="388.1" x2="393.5" y2="392.6" stroke="#8a8a8a" stroke-width="1.0"/>
<line x1="391.7" y1="390.3" x2="395.3" y2="390.3" stroke="#8a8a8a" stroke-width="0.9"/>
<line x1="396.5" y1="389.1" x2="396.5" y2="393.6" stroke="#8a8a8a" stroke-width="1.0"/>
<line x1="394.7" y1="391.3" x2="398.3" y2="391.3" stroke="#8a8a8a" stroke-width="0.9"/>
<line x1="400.5" y1="389.9" x2="400.5" y2="394.4" stroke="#8a8a8a" stroke-width="1.0"/>
<line x1="398.7" y1="392.2" x2="402.3" y2="392.2" stroke="#8a8a8a" stroke-width="0.9"/>
<line x1="403.5" y1="390.2" x2="403.5" y2="394.8" stroke="#8a8a8a" stroke-width="1.0"/>
<line x1="401.7" y1="392.5" x2="405.3" y2="392.5" stroke="#8a8a8a" stroke-width="0.9"/>
<line x1="406.5" y1="390.6" x2="406.5" y2="395.1" stroke="#8a8a8a" stroke-width="1.0"/>
<line x1="404.7" y1="392.8" x2="408.3" y2="392.8" stroke="#8a8a8a" stroke-width="0.9"/>
<line x1="410.5" y1="391.6" x2="410.5" y2="396.1" stroke="#8a8a8a" stroke-width="1.0"/>
<line x1="408.7" y1="393.8" x2="412.3" y2="393.8" stroke="#8a8a8a" stroke-width="0.9"/>
<line x1="416.5" y1="392.8" x2="416.5" y2="397.3" stroke="#8a8a8a" stroke-width="1.0"/>
<line x1="414.7" y1="395.1" x2="418.3" y2="395.1" stroke="#8a8a8a" stroke-width="0.9"/>
<line x1="418.5" y1="392.9" x2="418.5" y2="397.4" stroke="#8a8a8a" stroke-width="1.0"/>
<line x1="416.7" y1="395.2" x2="420.3" y2="395.2" stroke="#8a8a8a" stroke-width="0.9"/>
<line x1="420.5" y1="393.0" x2="420.5" y2="397.5" stroke="#8a8a8a" stroke-width="1.0"/>
<line x1="418.7" y1="395.2" x2="422.3" y2="395.2" stroke="#8a8a8a" stroke-width="0.9"/>
<line x1="425.5" y1="393.1" x2="425.5" y2="397.6" stroke="#8a8a8a" stroke-width="1.0"/>
<line x1="423.7" y1="395.4" x2="427.3" y2="395.4" stroke="#8a8a8a" stroke-width="0.9"/>
<line x1="428.5" y1="393.2" x2="428.5" y2="397.7" stroke="#8a8a8a" stroke-width="1.0"/>
<line x1="426.7" y1="395.5" x2="430.3" y2="395.5" stroke="#8a8a8a" stroke-width="0.9"/>
<line x1="433.5" y1="393.4" x2="433.5" y2="397.9" stroke="#8a8a8a" stroke-width="1.0"/>
<line x1="431.7" y1="395.6" x2="435.3" y2="395.6" stroke="#8a8a8a" stroke-width="0.9"/>
<line x1="436.5" y1="393.5" x2="436.5" y2="398.0" stroke="#8a8a8a" stroke-width="1.0"/>
<line x1="434.7" y1="395.7" x2="438.3" y2="395.7" stroke="#8a8a8a" stroke-width="0.9"/>
<line x1="439.5" y1="393.6" x2="439.5" y2="398.1" stroke="#8a8a8a" stroke-width="1.0"/>
<line x1="437.7" y1="395.8" x2="441.3" y2="395.8" stroke="#8a8a8a" stroke-width="0.9"/>
<line x1="441.5" y1="393.7" x2="441.5" y2="398.2" stroke="#8a8a8a" stroke-width="1.0"/>
<line x1="439.7" y1="395.9" x2="443.3" y2="395.9" stroke="#8a8a8a" stroke-width="0.9"/>
<line x1="447.5" y1="402.2" x2="447.5" y2="406.8" stroke="#8a8a8a" stroke-width="1.0"/>
<line x1="445.7" y1="404.5" x2="449.3" y2="404.5" stroke="#8a8a8a" stroke-width="0.9"/>
<line x1="449.5" y1="402.2" x2="449.5" y2="406.8" stroke="#8a8a8a" stroke-width="1.0"/>
<line x1="447.7" y1="404.5" x2="451.3" y2="404.5" stroke="#8a8a8a" stroke-width="0.9"/>
<line x1="451.5" y1="402.2" x2="451.5" y2="406.8" stroke="#8a8a8a" stroke-width="1.0"/>
<line x1="449.7" y1="404.5" x2="453.3" y2="404.5" stroke="#8a8a8a" stroke-width="0.9"/>
<line x1="454.5" y1="402.2" x2="454.5" y2="406.8" stroke="#8a8a8a" stroke-width="1.0"/>
<line x1="452.7" y1="404.5" x2="456.3" y2="404.5" stroke="#8a8a8a" stroke-width="0.9"/>
<line x1="459.5" y1="427.2" x2="459.5" y2="431.8" stroke="#8a8a8a" stroke-width="1.0"/>
<line x1="457.7" y1="429.5" x2="461.3" y2="429.5" stroke="#8a8a8a" stroke-width="0.9"/>
<line x1="462.5" y1="427.2" x2="462.5" y2="431.8" stroke="#8a8a8a" stroke-width="1.0"/>
<line x1="460.7" y1="429.5" x2="464.3" y2="429.5" stroke="#8a8a8a" stroke-width="0.9"/>
<line x1="478.5" y1="427.2" x2="478.5" y2="431.8" stroke="#8a8a8a" stroke-width="1.0"/>
<line x1="476.7" y1="429.5" x2="480.3" y2="429.5" stroke="#8a8a8a" stroke-width="0.9"/>
<polyline points="300.0,307.0 305.0,308.5 310.0,311.0 315.0,314.0 320.0,317.0 325.0,320.5 332.0,324.0 338.0,328.0 345.0,332.0 352.0,335.0 358.0,339.0 364.0,342.0 372.0,350.0 380.0,356.0 388.0,362.0 395.0,366.0 400.0,369.0 407.0,373.0 414.0,377.0 420.0,378.0 425.0,378.5 430.0,381.0 437.0,383.0 443.0,386.0 447.0,388.0 450.0,391.0 453.0,393.0 457.0,394.0 458.0,397.5 461.0,400.0 462.0,403.5 491.0,403.5 491.0,423.5 500.0,423.5" fill="none" stroke="#3a3a3a" stroke-width="1.0" stroke-linejoin="miter" />
<polyline points="360.0,340.0 364.0,342.0 372.0,350.0 380.0,356.0 388.0,362.0 395.0,366.0 400.0,369.0 407.0,373.0 414.0,377.0 420.0,378.0 425.0,378.5 430.0,381.0 437.0,383.0 443.0,386.0 447.0,388.0 450.0,391.0 453.0,393.0 457.0,394.0 457.0,394.0" fill="none" stroke="#0a0a0a" stroke-width="2.0" stroke-linejoin="miter" />
<line x1="360.0" y1="337.5" x2="360.0" y2="342.5" stroke="#0a0a0a" stroke-width="1.2"/>
<line x1="361.1" y1="337.8" x2="361.1" y2="343.3" stroke="#0a0a0a" stroke-width="1.2"/>
<line x1="362.3" y1="338.6" x2="362.3" y2="343.7" stroke="#0a0a0a" stroke-width="1.5"/>
<line x1="363.8" y1="338.8" x2="363.8" y2="344.9" stroke="#0a0a0a" stroke-width="1.2"/>
<line x1="365.3" y1="340.3" x2="365.3" y2="346.3" stroke="#0a0a0a" stroke-width="1.0"/>
<line x1="366.7" y1="342.2" x2="366.7" y2="347.2" stroke="#0a0a0a" stroke-width="1.0"/>
<line x1="367.8" y1="343.2" x2="367.8" y2="348.4" stroke="#0a0a0a" stroke-width="1.5"/>
<line x1="368.7" y1="344.3" x2="368.7" y2="349.2" stroke="#0a0a0a" stroke-width="1.5"/>
<line x1="369.7" y1="345.2" x2="369.7" y2="350.2" stroke="#0a0a0a" stroke-width="1.0"/>
<line x1="371.2" y1="346.4" x2="371.2" y2="352.1" stroke="#0a0a0a" stroke-width="1.2"/>
<line x1="372.1" y1="347.0" x2="372.1" y2="353.1" stroke="#0a0a0a" stroke-width="1.2"/>
<line x1="373.0" y1="347.6" x2="373.0" y2="353.8" stroke="#0a0a0a" stroke-width="1.2"/>
<line x1="374.4" y1="349.3" x2="374.4" y2="354.4" stroke="#0a0a0a" stroke-width="1.5"/>
<line x1="375.9" y1="350.4" x2="375.9" y2="355.4" stroke="#0a0a0a" stroke-width="1.2"/>
<line x1="377.5" y1="351.4" x2="377.5" y2="356.8" stroke="#0a0a0a" stroke-width="1.2"/>
<line x1="378.4" y1="352.2" x2="378.4" y2="357.4" stroke="#0a0a0a" stroke-width="1.5"/>
<line x1="379.4" y1="352.9" x2="379.4" y2="358.2" stroke="#0a0a0a" stroke-width="1.2"/>
<line x1="380.5" y1="354.0" x2="380.5" y2="358.8" stroke="#0a0a0a" stroke-width="1.2"/>
<line x1="381.7" y1="354.6" x2="381.7" y2="359.9" stroke="#0a0a0a" stroke-width="1.0"/>
<line x1="382.5" y1="354.8" x2="382.5" y2="360.9" stroke="#0a0a0a" stroke-width="1.0"/>
<line x1="384.0" y1="356.6" x2="384.0" y2="361.5" stroke="#0a0a0a" stroke-width="1.2"/>
<line x1="385.0" y1="356.7" x2="385.0" y2="362.8" stroke="#0a0a0a" stroke-width="1.0"/>
<line x1="385.9" y1="358.0" x2="385.9" y2="362.9" stroke="#0a0a0a" stroke-width="1.2"/>
<line x1="387.4" y1="358.7" x2="387.4" y2="364.4" stroke="#0a0a0a" stroke-width="1.2"/>
<line x1="388.5" y1="359.5" x2="388.5" y2="365.0" stroke="#0a0a0a" stroke-width="1.5"/>
<line x1="389.7" y1="360.1" x2="389.7" y2="365.8" stroke="#0a0a0a" stroke-width="1.0"/>
<line x1="390.6" y1="360.5" x2="390.6" y2="366.5" stroke="#0a0a0a" stroke-width="1.0"/>
<line x1="391.7" y1="361.7" x2="391.7" y2="366.6" stroke="#0a0a0a" stroke-width="1.0"/>
<line x1="393.0" y1="361.9" x2="393.0" y2="367.8" stroke="#0a0a0a" stroke-width="1.0"/>
<line x1="394.2" y1="363.0" x2="394.2" y2="368.1" stroke="#0a0a0a" stroke-width="1.2"/>
<line x1="395.7" y1="363.7" x2="395.7" y2="369.1" stroke="#0a0a0a" stroke-width="1.2"/>
<line x1="397.3" y1="364.7" x2="397.3" y2="370.1" stroke="#0a0a0a" stroke-width="1.2"/>
<line x1="398.6" y1="365.7" x2="398.6" y2="370.6" stroke="#0a0a0a" stroke-width="1.5"/>
<line x1="399.5" y1="366.2" x2="399.5" y2="371.2" stroke="#0a0a0a" stroke-width="1.0"/>
<line x1="400.4" y1="366.7" x2="400.4" y2="371.8" stroke="#0a0a0a" stroke-width="1.2"/>
<line x1="401.7" y1="367.2" x2="401.7" y2="372.7" stroke="#0a0a0a" stroke-width="1.0"/>
<line x1="402.6" y1="367.8" x2="402.6" y2="373.3" stroke="#0a0a0a" stroke-width="1.0"/>
<line x1="403.6" y1="368.1" x2="403.6" y2="374.0" stroke="#0a0a0a" stroke-width="1.2"/>
<line x1="404.3" y1="369.0" x2="404.3" y2="373.9" stroke="#0a0a0a" stroke-width="1.5"/>
<line x1="405.5" y1="369.6" x2="405.5" y2="374.7" stroke="#0a0a0a" stroke-width="1.2"/>
<line x1="406.4" y1="370.0" x2="406.4" y2="375.4" stroke="#0a0a0a" stroke-width="1.5"/>
<line x1="407.9" y1="370.8" x2="407.9" y2="376.2" stroke="#0a0a0a" stroke-width="1.2"/>
<line x1="409.1" y1="371.2" x2="409.1" y2="377.2" stroke="#0a0a0a" stroke-width="1.5"/>
<line x1="410.0" y1="372.2" x2="410.0" y2="377.3" stroke="#0a0a0a" stroke-width="1.0"/>
<line x1="411.0" y1="372.3" x2="411.0" y2="378.3" stroke="#0a0a0a" stroke-width="1.5"/>
<line x1="412.4" y1="373.6" x2="412.4" y2="378.6" stroke="#0a0a0a" stroke-width="1.2"/>
<line x1="414.0" y1="374.0" x2="414.0" y2="380.0" stroke="#0a0a0a" stroke-width="1.0"/>
<line x1="414.7" y1="374.2" x2="414.7" y2="380.0" stroke="#0a0a0a" stroke-width="1.2"/>
<line x1="415.8" y1="374.9" x2="415.8" y2="379.7" stroke="#0a0a0a" stroke-width="1.5"/>
<line x1="417.3" y1="374.5" x2="417.3" y2="380.6" stroke="#0a0a0a" stroke-width="1.5"/>
<line x1="418.9" y1="375.0" x2="418.9" y2="380.6" stroke="#0a0a0a" stroke-width="1.5"/>
<line x1="419.8" y1="375.2" x2="419.8" y2="380.7" stroke="#0a0a0a" stroke-width="1.0"/>
<line x1="420.8" y1="375.7" x2="420.8" y2="380.5" stroke="#0a0a0a" stroke-width="1.2"/>
<line x1="422.3" y1="375.2" x2="422.3" y2="381.3" stroke="#0a0a0a" stroke-width="1.5"/>
<line x1="423.3" y1="375.9" x2="423.3" y2="380.8" stroke="#0a0a0a" stroke-width="1.2"/>
<line x1="424.2" y1="375.9" x2="424.2" y2="380.9" stroke="#0a0a0a" stroke-width="1.2"/>
<line x1="425.3" y1="375.9" x2="425.3" y2="381.4" stroke="#0a0a0a" stroke-width="1.5"/>
<line x1="426.6" y1="376.7" x2="426.6" y2="381.8" stroke="#0a0a0a" stroke-width="1.0"/>
<line x1="427.3" y1="376.7" x2="427.3" y2="382.6" stroke="#0a0a0a" stroke-width="1.0"/>
<line x1="428.4" y1="377.8" x2="428.4" y2="382.6" stroke="#0a0a0a" stroke-width="1.0"/>
<line x1="429.4" y1="377.8" x2="429.4" y2="383.5" stroke="#0a0a0a" stroke-width="1.0"/>
<line x1="430.6" y1="378.4" x2="430.6" y2="383.9" stroke="#0a0a0a" stroke-width="1.0"/>
<line x1="431.9" y1="378.6" x2="431.9" y2="384.4" stroke="#0a0a0a" stroke-width="1.5"/>
<line x1="432.9" y1="379.2" x2="432.9" y2="384.5" stroke="#0a0a0a" stroke-width="1.2"/>
<line x1="433.8" y1="379.2" x2="433.8" y2="385.0" stroke="#0a0a0a" stroke-width="1.5"/>
<line x1="434.6" y1="379.3" x2="434.6" y2="385.3" stroke="#0a0a0a" stroke-width="1.5"/>
<line x1="436.1" y1="379.9" x2="436.1" y2="385.6" stroke="#0a0a0a" stroke-width="1.5"/>
<line x1="437.4" y1="380.5" x2="437.4" y2="386.0" stroke="#0a0a0a" stroke-width="1.5"/>
<line x1="438.8" y1="381.1" x2="438.8" y2="386.7" stroke="#0a0a0a" stroke-width="1.0"/>
<line x1="440.3" y1="381.8" x2="440.3" y2="387.4" stroke="#0a0a0a" stroke-width="1.5"/>
<line x1="441.6" y1="382.4" x2="441.6" y2="388.2" stroke="#0a0a0a" stroke-width="1.0"/>
<line x1="442.3" y1="383.2" x2="442.3" y2="388.1" stroke="#0a0a0a" stroke-width="1.5"/>
<line x1="443.4" y1="383.7" x2="443.4" y2="388.7" stroke="#0a0a0a" stroke-width="1.2"/>
<line x1="444.6" y1="383.9" x2="444.6" y2="389.6" stroke="#0a0a0a" stroke-width="1.5"/>
<line x1="445.7" y1="384.8" x2="445.7" y2="389.9" stroke="#0a0a0a" stroke-width="1.2"/>
<line x1="446.5" y1="384.8" x2="446.5" y2="390.7" stroke="#0a0a0a" stroke-width="1.5"/>
<line x1="448.0" y1="386.0" x2="448.0" y2="392.0" stroke="#0a0a0a" stroke-width="1.0"/>
<line x1="449.3" y1="387.8" x2="449.3" y2="392.7" stroke="#0a0a0a" stroke-width="1.5"/>
<line x1="450.4" y1="388.3" x2="450.4" y2="394.2" stroke="#0a0a0a" stroke-width="1.2"/>
<line x1="451.3" y1="389.0" x2="451.3" y2="394.8" stroke="#0a0a0a" stroke-width="1.0"/>
<line x1="452.7" y1="389.7" x2="452.7" y2="395.9" stroke="#0a0a0a" stroke-width="1.2"/>
<line x1="454.1" y1="390.8" x2="454.1" y2="395.7" stroke="#0a0a0a" stroke-width="1.5"/>
<line x1="455.1" y1="391.1" x2="455.1" y2="396.0" stroke="#0a0a0a" stroke-width="1.5"/>
<line x1="456.4" y1="391.4" x2="456.4" y2="396.3" stroke="#0a0a0a" stroke-width="1.0"/>
<line x1="460.5" y1="396.7" x2="460.5" y2="401.7" stroke="#222" stroke-width="1.1"/>
<line x1="458.7" y1="399.2" x2="462.3" y2="399.2" stroke="#222" stroke-width="0.9"/>
<line x1="467.5" y1="401.0" x2="467.5" y2="406.0" stroke="#222" stroke-width="1.1"/>
<line x1="465.7" y1="403.5" x2="469.3" y2="403.5" stroke="#222" stroke-width="0.9"/>
<line x1="469.5" y1="401.0" x2="469.5" y2="406.0" stroke="#222" stroke-width="1.1"/>
<line x1="467.7" y1="403.5" x2="471.3" y2="403.5" stroke="#222" stroke-width="0.9"/>
<line x1="470.5" y1="401.0" x2="470.5" y2="406.0" stroke="#222" stroke-width="1.1"/>
<line x1="468.7" y1="403.5" x2="472.3" y2="403.5" stroke="#222" stroke-width="0.9"/>
<line x1="472.5" y1="401.0" x2="472.5" y2="406.0" stroke="#222" stroke-width="1.1"/>
<line x1="470.7" y1="403.5" x2="474.3" y2="403.5" stroke="#222" stroke-width="0.9"/>
<line x1="474.5" y1="401.0" x2="474.5" y2="406.0" stroke="#222" stroke-width="1.1"/>
<line x1="472.7" y1="403.5" x2="476.3" y2="403.5" stroke="#222" stroke-width="0.9"/>
<line x1="476.5" y1="401.0" x2="476.5" y2="406.0" stroke="#222" stroke-width="1.1"/>
<line x1="474.7" y1="403.5" x2="478.3" y2="403.5" stroke="#222" stroke-width="0.9"/>
<line x1="477.5" y1="401.0" x2="477.5" y2="406.0" stroke="#222" stroke-width="1.1"/>
<line x1="475.7" y1="403.5" x2="479.3" y2="403.5" stroke="#222" stroke-width="0.9"/>
<line x1="479.5" y1="401.0" x2="479.5" y2="406.0" stroke="#222" stroke-width="1.1"/>
<line x1="477.7" y1="403.5" x2="481.3" y2="403.5" stroke="#222" stroke-width="0.9"/>
<line x1="481.5" y1="401.0" x2="481.5" y2="406.0" stroke="#222" stroke-width="1.1"/>
<line x1="479.7" y1="403.5" x2="483.3" y2="403.5" stroke="#222" stroke-width="0.9"/>
<line x1="483.5" y1="401.0" x2="483.5" y2="406.0" stroke="#222" stroke-width="1.1"/>
<line x1="481.7" y1="403.5" x2="485.3" y2="403.5" stroke="#222" stroke-width="0.9"/>
<line x1="485.5" y1="401.0" x2="485.5" y2="406.0" stroke="#222" stroke-width="1.1"/>
<line x1="483.7" y1="403.5" x2="487.3" y2="403.5" stroke="#222" stroke-width="0.9"/>
<line x1="488.5" y1="401.0" x2="488.5" y2="406.0" stroke="#222" stroke-width="1.1"/>
<line x1="486.7" y1="403.5" x2="490.3" y2="403.5" stroke="#222" stroke-width="0.9"/>
<line x1="489.5" y1="401.0" x2="489.5" y2="406.0" stroke="#222" stroke-width="1.1"/>
<line x1="487.7" y1="403.5" x2="491.3" y2="403.5" stroke="#222" stroke-width="0.9"/>
<line x1="490.5" y1="401.0" x2="490.5" y2="406.0" stroke="#222" stroke-width="1.1"/>
<line x1="488.7" y1="403.5" x2="492.3" y2="403.5" stroke="#222" stroke-width="0.9"/>
<line x1="494.5" y1="421.0" x2="494.5" y2="426.0" stroke="#222" stroke-width="1.1"/>
<line x1="492.7" y1="423.5" x2="496.3" y2="423.5" stroke="#222" stroke-width="0.9"/>
<line x1="499.5" y1="421.0" x2="499.5" y2="426.0" stroke="#222" stroke-width="1.1"/>
<line x1="497.7" y1="423.5" x2="501.3" y2="423.5" stroke="#222" stroke-width="0.9"/>
<line x1="492.0" y1="422.0" x2="497.0" y2="417.0" stroke="#555" stroke-width="0.8"/>
<text x="499.5" y="415.5" font-size="6.5" fill="#444" text-anchor="middle" font-weight="normal" font-style="normal" >0</text>
<line x1="358.0" y1="373.0" x2="363.0" y2="365.0" stroke="#aaa" stroke-width="0.8"/>
<text x="363.5" y="364.0" font-size="6.5" fill="#999" text-anchor="middle" font-weight="normal" font-style="normal" >1</text>
<text x="19.6" y="12.9" font-size="14" fill="#000" text-anchor="start" font-weight="bold" font-style="normal" >A</text>
<text x="17.9" y="282.9" font-size="14" fill="#000" text-anchor="start" font-weight="bold" font-style="normal" >B</text>
</svg>
</body></html>
